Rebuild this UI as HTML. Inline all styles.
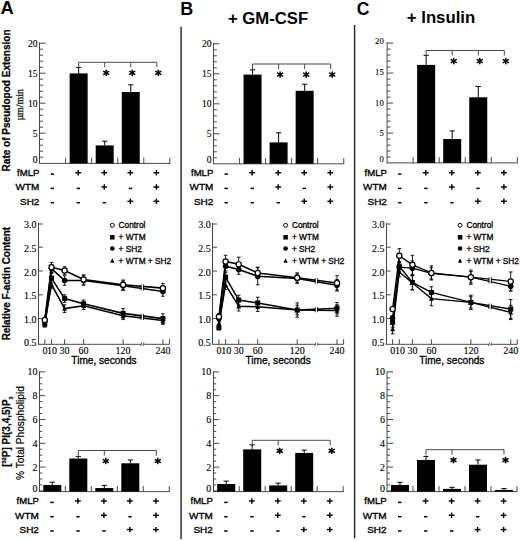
<!DOCTYPE html>
<html><head><meta charset="utf-8"><style>html,body{margin:0;padding:0;background:#fff;width:520px;height:541px;overflow:hidden}svg{display:block}</style></head><body>
<svg width="520" height="541" viewBox="0 0 520 541">
<rect width="520" height="541" fill="#fff"/>
<text x="0.60" y="14.30" font-family="'Liberation Sans', sans-serif" font-size="18.4" font-weight="bold" text-anchor="start" >A</text>
<text x="180.20" y="14.50" font-family="'Liberation Sans', sans-serif" font-size="18.0" font-weight="bold" text-anchor="start" >B</text>
<text x="356.80" y="14.80" font-family="'Liberation Sans', sans-serif" font-size="17.5" font-weight="bold" text-anchor="start" >C</text>
<text x="227.90" y="23.90" font-family="'Liberation Sans', sans-serif" font-size="16" font-weight="bold" text-anchor="start" textLength="80.3" lengthAdjust="spacingAndGlyphs">+ GM-CSF</text>
<text x="406.80" y="23.40" font-family="'Liberation Sans', sans-serif" font-size="16" font-weight="bold" text-anchor="start" textLength="68.4" lengthAdjust="spacingAndGlyphs">+ Insulin</text>
<line x1="181.10" y1="26.80" x2="181.10" y2="539.20" stroke="#4a4a4a" stroke-width="1.7" />
<line x1="354.60" y1="25.10" x2="354.60" y2="538.20" stroke="#222" stroke-width="1.4" />
<text transform="translate(10.1,171.4) rotate(-90)" font-family="'Liberation Sans', sans-serif" font-size="10.7" font-weight="bold" stroke="#000" stroke-width="0.25" textLength="142" lengthAdjust="spacingAndGlyphs">Rate of Pseudopod Extension</text>
<text transform="translate(22.9,120.6) rotate(-90)" font-family="'Liberation Serif', serif" font-size="10.4" stroke="#000" stroke-width="0.25" textLength="31.6" lengthAdjust="spacingAndGlyphs">µm/min</text>
<text transform="translate(9.7,340.3) rotate(-90)" font-family="'Liberation Sans', sans-serif" font-size="10.1" font-weight="bold" stroke="#000" stroke-width="0.25" textLength="113.4" lengthAdjust="spacingAndGlyphs">Relative F-actin Content</text>
<text transform="translate(9.7,466.8) rotate(-90)" font-family="'Liberation Sans', sans-serif" font-size="10" font-weight="bold" stroke="#000" stroke-width="0.2">[<tspan font-size="5.6" dy="-3.8">32</tspan><tspan dy="3.8">P] PI(3,4,5)P</tspan><tspan font-size="5.4" dy="3.0">3</tspan></text>
<text transform="translate(23.6,480.0) rotate(-90)" font-family="'Liberation Sans', sans-serif" font-size="10" stroke="#000" stroke-width="0.2" textLength="93.8" lengthAdjust="spacingAndGlyphs">% Total Phospholipid</text>
<line x1="39.50" y1="42.30" x2="39.50" y2="163.30" stroke="#484848" stroke-width="1.0" />
<line x1="39.60" y1="157.20" x2="43.00" y2="157.20" stroke="#484848" stroke-width="1.0" />
<line x1="39.60" y1="151.20" x2="43.00" y2="151.20" stroke="#484848" stroke-width="1.0" />
<line x1="39.60" y1="145.20" x2="43.00" y2="145.20" stroke="#484848" stroke-width="1.0" />
<line x1="39.60" y1="139.20" x2="43.00" y2="139.20" stroke="#484848" stroke-width="1.0" />
<line x1="39.60" y1="133.20" x2="45.60" y2="133.20" stroke="#484848" stroke-width="1.0" />
<line x1="39.60" y1="127.20" x2="43.00" y2="127.20" stroke="#484848" stroke-width="1.0" />
<line x1="39.60" y1="121.20" x2="43.00" y2="121.20" stroke="#484848" stroke-width="1.0" />
<line x1="39.60" y1="115.20" x2="43.00" y2="115.20" stroke="#484848" stroke-width="1.0" />
<line x1="39.60" y1="109.20" x2="43.00" y2="109.20" stroke="#484848" stroke-width="1.0" />
<line x1="39.60" y1="103.20" x2="45.60" y2="103.20" stroke="#484848" stroke-width="1.0" />
<line x1="39.60" y1="97.20" x2="43.00" y2="97.20" stroke="#484848" stroke-width="1.0" />
<line x1="39.60" y1="91.20" x2="43.00" y2="91.20" stroke="#484848" stroke-width="1.0" />
<line x1="39.60" y1="85.20" x2="43.00" y2="85.20" stroke="#484848" stroke-width="1.0" />
<line x1="39.60" y1="79.20" x2="43.00" y2="79.20" stroke="#484848" stroke-width="1.0" />
<line x1="39.60" y1="73.20" x2="45.60" y2="73.20" stroke="#484848" stroke-width="1.0" />
<line x1="39.60" y1="67.20" x2="43.00" y2="67.20" stroke="#484848" stroke-width="1.0" />
<line x1="39.60" y1="61.20" x2="43.00" y2="61.20" stroke="#484848" stroke-width="1.0" />
<line x1="39.60" y1="55.20" x2="43.00" y2="55.20" stroke="#484848" stroke-width="1.0" />
<line x1="39.60" y1="49.20" x2="43.00" y2="49.20" stroke="#484848" stroke-width="1.0" />
<line x1="39.60" y1="43.20" x2="45.60" y2="43.20" stroke="#484848" stroke-width="1.0" />
<text x="37.50" y="163.30" font-family="'Liberation Serif', serif" font-size="9.6" font-weight="normal" text-anchor="end" stroke="#000" stroke-width="0.12" >0</text>
<text x="37.50" y="136.90" font-family="'Liberation Serif', serif" font-size="9.6" font-weight="normal" text-anchor="end" stroke="#000" stroke-width="0.12" >5</text>
<text x="37.50" y="106.90" font-family="'Liberation Serif', serif" font-size="9.6" font-weight="normal" text-anchor="end" stroke="#000" stroke-width="0.12" >10</text>
<text x="37.50" y="76.90" font-family="'Liberation Serif', serif" font-size="9.6" font-weight="normal" text-anchor="end" stroke="#000" stroke-width="0.12" >15</text>
<text x="37.50" y="46.90" font-family="'Liberation Serif', serif" font-size="9.6" font-weight="normal" text-anchor="end" stroke="#000" stroke-width="0.12" >20</text>
<line x1="39.10" y1="163.40" x2="170.35" y2="163.40" stroke="#484848" stroke-width="1.0" />
<line x1="65.65" y1="163.40" x2="65.65" y2="157.60" stroke="#484848" stroke-width="1.0" />
<line x1="91.70" y1="163.40" x2="91.70" y2="157.60" stroke="#484848" stroke-width="1.0" />
<line x1="117.75" y1="163.40" x2="117.75" y2="157.60" stroke="#484848" stroke-width="1.0" />
<line x1="143.80" y1="163.40" x2="143.80" y2="157.60" stroke="#484848" stroke-width="1.0" />
<line x1="169.85" y1="163.40" x2="169.85" y2="157.60" stroke="#484848" stroke-width="1.0" />
<line x1="78.65" y1="73.40" x2="78.65" y2="67.40" stroke="#000" stroke-width="1.0" />
<line x1="76.05" y1="67.40" x2="81.25" y2="67.40" stroke="#000" stroke-width="1.0" />
<rect x="69.65" y="73.40" width="18.00" height="90.00" fill="#000"/>
<line x1="104.70" y1="145.40" x2="104.70" y2="141.20" stroke="#000" stroke-width="1.0" />
<line x1="102.10" y1="141.20" x2="107.30" y2="141.20" stroke="#000" stroke-width="1.0" />
<rect x="95.70" y="145.40" width="18.00" height="18.00" fill="#000"/>
<line x1="130.75" y1="92.00" x2="130.75" y2="84.80" stroke="#000" stroke-width="1.0" />
<line x1="128.15" y1="84.80" x2="133.35" y2="84.80" stroke="#000" stroke-width="1.0" />
<rect x="121.75" y="92.00" width="18.00" height="71.40" fill="#000"/>
<line x1="78.65" y1="62.30" x2="156.80" y2="62.30" stroke="#484848" stroke-width="1.0" />
<line x1="78.65" y1="62.30" x2="78.65" y2="67.30" stroke="#484848" stroke-width="1.0" />
<line x1="104.70" y1="62.30" x2="104.70" y2="67.30" stroke="#484848" stroke-width="1.0" />
<line x1="130.75" y1="62.30" x2="130.75" y2="67.30" stroke="#484848" stroke-width="1.0" />
<line x1="156.80" y1="62.30" x2="156.80" y2="67.30" stroke="#484848" stroke-width="1.0" />
<line x1="106.20" y1="70.29" x2="106.20" y2="75.51" stroke="#000" stroke-width="1.55" stroke-linecap="round"/>
<line x1="103.69" y1="71.45" x2="108.71" y2="74.35" stroke="#000" stroke-width="1.55" stroke-linecap="round"/>
<line x1="108.71" y1="71.45" x2="103.69" y2="74.35" stroke="#000" stroke-width="1.55" stroke-linecap="round"/>
<line x1="132.25" y1="70.29" x2="132.25" y2="75.51" stroke="#000" stroke-width="1.55" stroke-linecap="round"/>
<line x1="129.74" y1="71.45" x2="134.76" y2="74.35" stroke="#000" stroke-width="1.55" stroke-linecap="round"/>
<line x1="134.76" y1="71.45" x2="129.74" y2="74.35" stroke="#000" stroke-width="1.55" stroke-linecap="round"/>
<line x1="158.30" y1="70.29" x2="158.30" y2="75.51" stroke="#000" stroke-width="1.55" stroke-linecap="round"/>
<line x1="155.79" y1="71.45" x2="160.81" y2="74.35" stroke="#000" stroke-width="1.55" stroke-linecap="round"/>
<line x1="160.81" y1="71.45" x2="155.79" y2="74.35" stroke="#000" stroke-width="1.55" stroke-linecap="round"/>
<text x="39.40" y="176.00" font-family="'Liberation Sans', sans-serif" font-size="9.9" font-weight="normal" text-anchor="end" stroke="#000" stroke-width="0.35" textLength="22.3" lengthAdjust="spacingAndGlyphs">fMLP</text>
<line x1="50.60" y1="174.10" x2="54.00" y2="174.10" stroke="#000" stroke-width="1.5" />
<line x1="75.35" y1="172.70" x2="81.15" y2="172.70" stroke="#000" stroke-width="1.45" />
<line x1="78.25" y1="170.00" x2="78.25" y2="175.40" stroke="#000" stroke-width="1.45" />
<line x1="101.40" y1="172.70" x2="107.20" y2="172.70" stroke="#000" stroke-width="1.45" />
<line x1="104.30" y1="170.00" x2="104.30" y2="175.40" stroke="#000" stroke-width="1.45" />
<line x1="127.45" y1="172.70" x2="133.25" y2="172.70" stroke="#000" stroke-width="1.45" />
<line x1="130.35" y1="170.00" x2="130.35" y2="175.40" stroke="#000" stroke-width="1.45" />
<line x1="153.50" y1="172.70" x2="159.30" y2="172.70" stroke="#000" stroke-width="1.45" />
<line x1="156.40" y1="170.00" x2="156.40" y2="175.40" stroke="#000" stroke-width="1.45" />
<text x="39.40" y="190.30" font-family="'Liberation Sans', sans-serif" font-size="9.9" font-weight="normal" text-anchor="end" stroke="#000" stroke-width="0.35" textLength="23.8" lengthAdjust="spacingAndGlyphs">WTM</text>
<line x1="50.60" y1="188.40" x2="54.00" y2="188.40" stroke="#000" stroke-width="1.5" />
<line x1="76.65" y1="188.40" x2="80.05" y2="188.40" stroke="#000" stroke-width="1.5" />
<line x1="101.40" y1="187.00" x2="107.20" y2="187.00" stroke="#000" stroke-width="1.45" />
<line x1="104.30" y1="184.30" x2="104.30" y2="189.70" stroke="#000" stroke-width="1.45" />
<line x1="128.75" y1="188.40" x2="132.15" y2="188.40" stroke="#000" stroke-width="1.5" />
<line x1="153.50" y1="187.00" x2="159.30" y2="187.00" stroke="#000" stroke-width="1.45" />
<line x1="156.40" y1="184.30" x2="156.40" y2="189.70" stroke="#000" stroke-width="1.45" />
<text x="39.40" y="204.60" font-family="'Liberation Sans', sans-serif" font-size="9.9" font-weight="normal" text-anchor="end" stroke="#000" stroke-width="0.35" textLength="19.4" lengthAdjust="spacingAndGlyphs">SH2</text>
<line x1="50.60" y1="202.70" x2="54.00" y2="202.70" stroke="#000" stroke-width="1.5" />
<line x1="76.65" y1="202.70" x2="80.05" y2="202.70" stroke="#000" stroke-width="1.5" />
<line x1="102.70" y1="202.70" x2="106.10" y2="202.70" stroke="#000" stroke-width="1.5" />
<line x1="127.45" y1="201.30" x2="133.25" y2="201.30" stroke="#000" stroke-width="1.45" />
<line x1="130.35" y1="198.60" x2="130.35" y2="204.00" stroke="#000" stroke-width="1.45" />
<line x1="153.50" y1="201.30" x2="159.30" y2="201.30" stroke="#000" stroke-width="1.45" />
<line x1="156.40" y1="198.60" x2="156.40" y2="204.00" stroke="#000" stroke-width="1.45" />
<line x1="213.50" y1="42.90" x2="213.50" y2="163.90" stroke="#484848" stroke-width="1.0" />
<line x1="213.50" y1="157.80" x2="216.90" y2="157.80" stroke="#484848" stroke-width="1.0" />
<line x1="213.50" y1="151.80" x2="216.90" y2="151.80" stroke="#484848" stroke-width="1.0" />
<line x1="213.50" y1="145.80" x2="216.90" y2="145.80" stroke="#484848" stroke-width="1.0" />
<line x1="213.50" y1="139.80" x2="216.90" y2="139.80" stroke="#484848" stroke-width="1.0" />
<line x1="213.50" y1="133.80" x2="219.50" y2="133.80" stroke="#484848" stroke-width="1.0" />
<line x1="213.50" y1="127.80" x2="216.90" y2="127.80" stroke="#484848" stroke-width="1.0" />
<line x1="213.50" y1="121.80" x2="216.90" y2="121.80" stroke="#484848" stroke-width="1.0" />
<line x1="213.50" y1="115.80" x2="216.90" y2="115.80" stroke="#484848" stroke-width="1.0" />
<line x1="213.50" y1="109.80" x2="216.90" y2="109.80" stroke="#484848" stroke-width="1.0" />
<line x1="213.50" y1="103.80" x2="219.50" y2="103.80" stroke="#484848" stroke-width="1.0" />
<line x1="213.50" y1="97.80" x2="216.90" y2="97.80" stroke="#484848" stroke-width="1.0" />
<line x1="213.50" y1="91.80" x2="216.90" y2="91.80" stroke="#484848" stroke-width="1.0" />
<line x1="213.50" y1="85.80" x2="216.90" y2="85.80" stroke="#484848" stroke-width="1.0" />
<line x1="213.50" y1="79.80" x2="216.90" y2="79.80" stroke="#484848" stroke-width="1.0" />
<line x1="213.50" y1="73.80" x2="219.50" y2="73.80" stroke="#484848" stroke-width="1.0" />
<line x1="213.50" y1="67.80" x2="216.90" y2="67.80" stroke="#484848" stroke-width="1.0" />
<line x1="213.50" y1="61.80" x2="216.90" y2="61.80" stroke="#484848" stroke-width="1.0" />
<line x1="213.50" y1="55.80" x2="216.90" y2="55.80" stroke="#484848" stroke-width="1.0" />
<line x1="213.50" y1="49.80" x2="216.90" y2="49.80" stroke="#484848" stroke-width="1.0" />
<line x1="213.50" y1="43.80" x2="219.50" y2="43.80" stroke="#484848" stroke-width="1.0" />
<text x="211.60" y="162.80" font-family="'Liberation Serif', serif" font-size="9.6" font-weight="normal" text-anchor="end" stroke="#000" stroke-width="0.12" >0</text>
<text x="211.60" y="136.90" font-family="'Liberation Serif', serif" font-size="9.6" font-weight="normal" text-anchor="end" stroke="#000" stroke-width="0.12" >5</text>
<text x="211.60" y="107.10" font-family="'Liberation Serif', serif" font-size="9.6" font-weight="normal" text-anchor="end" stroke="#000" stroke-width="0.12" >10</text>
<text x="211.60" y="77.10" font-family="'Liberation Serif', serif" font-size="9.6" font-weight="normal" text-anchor="end" stroke="#000" stroke-width="0.12" >15</text>
<text x="211.60" y="47.10" font-family="'Liberation Serif', serif" font-size="9.6" font-weight="normal" text-anchor="end" stroke="#000" stroke-width="0.12" >20</text>
<line x1="213.00" y1="163.80" x2="344.25" y2="163.80" stroke="#484848" stroke-width="1.0" />
<line x1="239.55" y1="163.80" x2="239.55" y2="158.00" stroke="#484848" stroke-width="1.0" />
<line x1="265.60" y1="163.80" x2="265.60" y2="158.00" stroke="#484848" stroke-width="1.0" />
<line x1="291.65" y1="163.80" x2="291.65" y2="158.00" stroke="#484848" stroke-width="1.0" />
<line x1="317.70" y1="163.80" x2="317.70" y2="158.00" stroke="#484848" stroke-width="1.0" />
<line x1="343.75" y1="163.80" x2="343.75" y2="158.00" stroke="#484848" stroke-width="1.0" />
<line x1="252.55" y1="74.60" x2="252.55" y2="69.80" stroke="#000" stroke-width="1.0" />
<line x1="249.95" y1="69.80" x2="255.15" y2="69.80" stroke="#000" stroke-width="1.0" />
<rect x="243.55" y="74.60" width="18.00" height="89.20" fill="#000"/>
<line x1="278.60" y1="142.40" x2="278.60" y2="132.80" stroke="#000" stroke-width="1.0" />
<line x1="276.00" y1="132.80" x2="281.20" y2="132.80" stroke="#000" stroke-width="1.0" />
<rect x="269.60" y="142.40" width="18.00" height="21.40" fill="#000"/>
<line x1="304.65" y1="90.80" x2="304.65" y2="84.20" stroke="#000" stroke-width="1.0" />
<line x1="302.05" y1="84.20" x2="307.25" y2="84.20" stroke="#000" stroke-width="1.0" />
<rect x="295.65" y="90.80" width="18.00" height="73.00" fill="#000"/>
<line x1="252.55" y1="64.00" x2="330.70" y2="64.00" stroke="#484848" stroke-width="1.0" />
<line x1="252.55" y1="64.00" x2="252.55" y2="69.00" stroke="#484848" stroke-width="1.0" />
<line x1="278.60" y1="64.00" x2="278.60" y2="69.00" stroke="#484848" stroke-width="1.0" />
<line x1="304.65" y1="64.00" x2="304.65" y2="69.00" stroke="#484848" stroke-width="1.0" />
<line x1="330.70" y1="64.00" x2="330.70" y2="69.00" stroke="#484848" stroke-width="1.0" />
<line x1="280.10" y1="71.99" x2="280.10" y2="77.21" stroke="#000" stroke-width="1.55" stroke-linecap="round"/>
<line x1="277.59" y1="73.15" x2="282.61" y2="76.05" stroke="#000" stroke-width="1.55" stroke-linecap="round"/>
<line x1="282.61" y1="73.15" x2="277.59" y2="76.05" stroke="#000" stroke-width="1.55" stroke-linecap="round"/>
<line x1="306.15" y1="71.99" x2="306.15" y2="77.21" stroke="#000" stroke-width="1.55" stroke-linecap="round"/>
<line x1="303.64" y1="73.15" x2="308.66" y2="76.05" stroke="#000" stroke-width="1.55" stroke-linecap="round"/>
<line x1="308.66" y1="73.15" x2="303.64" y2="76.05" stroke="#000" stroke-width="1.55" stroke-linecap="round"/>
<line x1="332.20" y1="71.99" x2="332.20" y2="77.21" stroke="#000" stroke-width="1.55" stroke-linecap="round"/>
<line x1="329.69" y1="73.15" x2="334.71" y2="76.05" stroke="#000" stroke-width="1.55" stroke-linecap="round"/>
<line x1="334.71" y1="73.15" x2="329.69" y2="76.05" stroke="#000" stroke-width="1.55" stroke-linecap="round"/>
<text x="213.30" y="176.00" font-family="'Liberation Sans', sans-serif" font-size="9.9" font-weight="normal" text-anchor="end" stroke="#000" stroke-width="0.35" textLength="22.3" lengthAdjust="spacingAndGlyphs">fMLP</text>
<line x1="224.50" y1="174.10" x2="227.90" y2="174.10" stroke="#000" stroke-width="1.5" />
<line x1="249.25" y1="172.70" x2="255.05" y2="172.70" stroke="#000" stroke-width="1.45" />
<line x1="252.15" y1="170.00" x2="252.15" y2="175.40" stroke="#000" stroke-width="1.45" />
<line x1="275.30" y1="172.70" x2="281.10" y2="172.70" stroke="#000" stroke-width="1.45" />
<line x1="278.20" y1="170.00" x2="278.20" y2="175.40" stroke="#000" stroke-width="1.45" />
<line x1="301.35" y1="172.70" x2="307.15" y2="172.70" stroke="#000" stroke-width="1.45" />
<line x1="304.25" y1="170.00" x2="304.25" y2="175.40" stroke="#000" stroke-width="1.45" />
<line x1="327.40" y1="172.70" x2="333.20" y2="172.70" stroke="#000" stroke-width="1.45" />
<line x1="330.30" y1="170.00" x2="330.30" y2="175.40" stroke="#000" stroke-width="1.45" />
<text x="213.30" y="190.30" font-family="'Liberation Sans', sans-serif" font-size="9.9" font-weight="normal" text-anchor="end" stroke="#000" stroke-width="0.35" textLength="23.8" lengthAdjust="spacingAndGlyphs">WTM</text>
<line x1="224.50" y1="188.40" x2="227.90" y2="188.40" stroke="#000" stroke-width="1.5" />
<line x1="250.55" y1="188.40" x2="253.95" y2="188.40" stroke="#000" stroke-width="1.5" />
<line x1="275.30" y1="187.00" x2="281.10" y2="187.00" stroke="#000" stroke-width="1.45" />
<line x1="278.20" y1="184.30" x2="278.20" y2="189.70" stroke="#000" stroke-width="1.45" />
<line x1="302.65" y1="188.40" x2="306.05" y2="188.40" stroke="#000" stroke-width="1.5" />
<line x1="327.40" y1="187.00" x2="333.20" y2="187.00" stroke="#000" stroke-width="1.45" />
<line x1="330.30" y1="184.30" x2="330.30" y2="189.70" stroke="#000" stroke-width="1.45" />
<text x="213.30" y="204.60" font-family="'Liberation Sans', sans-serif" font-size="9.9" font-weight="normal" text-anchor="end" stroke="#000" stroke-width="0.35" textLength="19.4" lengthAdjust="spacingAndGlyphs">SH2</text>
<line x1="224.50" y1="202.70" x2="227.90" y2="202.70" stroke="#000" stroke-width="1.5" />
<line x1="250.55" y1="202.70" x2="253.95" y2="202.70" stroke="#000" stroke-width="1.5" />
<line x1="276.60" y1="202.70" x2="280.00" y2="202.70" stroke="#000" stroke-width="1.5" />
<line x1="301.35" y1="201.30" x2="307.15" y2="201.30" stroke="#000" stroke-width="1.45" />
<line x1="304.25" y1="198.60" x2="304.25" y2="204.00" stroke="#000" stroke-width="1.45" />
<line x1="327.40" y1="201.30" x2="333.20" y2="201.30" stroke="#000" stroke-width="1.45" />
<line x1="330.30" y1="198.60" x2="330.30" y2="204.00" stroke="#000" stroke-width="1.45" />
<line x1="387.10" y1="42.20" x2="387.10" y2="163.20" stroke="#484848" stroke-width="1.0" />
<line x1="387.10" y1="157.10" x2="390.50" y2="157.10" stroke="#484848" stroke-width="1.0" />
<line x1="387.10" y1="151.10" x2="390.50" y2="151.10" stroke="#484848" stroke-width="1.0" />
<line x1="387.10" y1="145.10" x2="390.50" y2="145.10" stroke="#484848" stroke-width="1.0" />
<line x1="387.10" y1="139.10" x2="390.50" y2="139.10" stroke="#484848" stroke-width="1.0" />
<line x1="387.10" y1="133.10" x2="393.10" y2="133.10" stroke="#484848" stroke-width="1.0" />
<line x1="387.10" y1="127.10" x2="390.50" y2="127.10" stroke="#484848" stroke-width="1.0" />
<line x1="387.10" y1="121.10" x2="390.50" y2="121.10" stroke="#484848" stroke-width="1.0" />
<line x1="387.10" y1="115.10" x2="390.50" y2="115.10" stroke="#484848" stroke-width="1.0" />
<line x1="387.10" y1="109.10" x2="390.50" y2="109.10" stroke="#484848" stroke-width="1.0" />
<line x1="387.10" y1="103.10" x2="393.10" y2="103.10" stroke="#484848" stroke-width="1.0" />
<line x1="387.10" y1="97.10" x2="390.50" y2="97.10" stroke="#484848" stroke-width="1.0" />
<line x1="387.10" y1="91.10" x2="390.50" y2="91.10" stroke="#484848" stroke-width="1.0" />
<line x1="387.10" y1="85.10" x2="390.50" y2="85.10" stroke="#484848" stroke-width="1.0" />
<line x1="387.10" y1="79.10" x2="390.50" y2="79.10" stroke="#484848" stroke-width="1.0" />
<line x1="387.10" y1="73.10" x2="393.10" y2="73.10" stroke="#484848" stroke-width="1.0" />
<line x1="387.10" y1="67.10" x2="390.50" y2="67.10" stroke="#484848" stroke-width="1.0" />
<line x1="387.10" y1="61.10" x2="390.50" y2="61.10" stroke="#484848" stroke-width="1.0" />
<line x1="387.10" y1="55.10" x2="390.50" y2="55.10" stroke="#484848" stroke-width="1.0" />
<line x1="387.10" y1="49.10" x2="390.50" y2="49.10" stroke="#484848" stroke-width="1.0" />
<line x1="387.10" y1="43.10" x2="393.10" y2="43.10" stroke="#484848" stroke-width="1.0" />
<text x="383.80" y="162.40" font-family="'Liberation Serif', serif" font-size="8.7" font-weight="normal" text-anchor="end" stroke="#000" stroke-width="0.12" >0</text>
<text x="383.80" y="135.60" font-family="'Liberation Serif', serif" font-size="8.7" font-weight="normal" text-anchor="end" stroke="#000" stroke-width="0.12" >5</text>
<text x="383.80" y="105.60" font-family="'Liberation Serif', serif" font-size="8.7" font-weight="normal" text-anchor="end" stroke="#000" stroke-width="0.12" >10</text>
<text x="383.80" y="75.10" font-family="'Liberation Serif', serif" font-size="8.7" font-weight="normal" text-anchor="end" stroke="#000" stroke-width="0.12" >15</text>
<text x="383.80" y="43.90" font-family="'Liberation Serif', serif" font-size="8.7" font-weight="normal" text-anchor="end" stroke="#000" stroke-width="0.12" >20</text>
<line x1="386.60" y1="162.90" x2="517.85" y2="162.90" stroke="#484848" stroke-width="1.0" />
<line x1="413.15" y1="162.90" x2="413.15" y2="157.10" stroke="#484848" stroke-width="1.0" />
<line x1="439.20" y1="162.90" x2="439.20" y2="157.10" stroke="#484848" stroke-width="1.0" />
<line x1="465.25" y1="162.90" x2="465.25" y2="157.10" stroke="#484848" stroke-width="1.0" />
<line x1="491.30" y1="162.90" x2="491.30" y2="157.10" stroke="#484848" stroke-width="1.0" />
<line x1="517.35" y1="162.90" x2="517.35" y2="157.10" stroke="#484848" stroke-width="1.0" />
<line x1="426.15" y1="64.90" x2="426.15" y2="55.30" stroke="#000" stroke-width="1.0" />
<line x1="423.55" y1="55.30" x2="428.75" y2="55.30" stroke="#000" stroke-width="1.0" />
<rect x="417.15" y="64.90" width="18.00" height="98.00" fill="#000"/>
<line x1="452.20" y1="139.00" x2="452.20" y2="130.90" stroke="#000" stroke-width="1.0" />
<line x1="449.60" y1="130.90" x2="454.80" y2="130.90" stroke="#000" stroke-width="1.0" />
<rect x="443.20" y="139.00" width="18.00" height="23.90" fill="#000"/>
<line x1="478.25" y1="97.30" x2="478.25" y2="86.50" stroke="#000" stroke-width="1.0" />
<line x1="475.65" y1="86.50" x2="480.85" y2="86.50" stroke="#000" stroke-width="1.0" />
<rect x="469.25" y="97.30" width="18.00" height="65.60" fill="#000"/>
<line x1="426.15" y1="50.50" x2="504.30" y2="50.50" stroke="#484848" stroke-width="1.0" />
<line x1="426.15" y1="50.50" x2="426.15" y2="55.50" stroke="#484848" stroke-width="1.0" />
<line x1="452.20" y1="50.50" x2="452.20" y2="55.50" stroke="#484848" stroke-width="1.0" />
<line x1="478.25" y1="50.50" x2="478.25" y2="55.50" stroke="#484848" stroke-width="1.0" />
<line x1="504.30" y1="50.50" x2="504.30" y2="55.50" stroke="#484848" stroke-width="1.0" />
<line x1="453.70" y1="58.49" x2="453.70" y2="63.71" stroke="#000" stroke-width="1.55" stroke-linecap="round"/>
<line x1="451.19" y1="59.65" x2="456.21" y2="62.55" stroke="#000" stroke-width="1.55" stroke-linecap="round"/>
<line x1="456.21" y1="59.65" x2="451.19" y2="62.55" stroke="#000" stroke-width="1.55" stroke-linecap="round"/>
<line x1="479.75" y1="58.49" x2="479.75" y2="63.71" stroke="#000" stroke-width="1.55" stroke-linecap="round"/>
<line x1="477.24" y1="59.65" x2="482.26" y2="62.55" stroke="#000" stroke-width="1.55" stroke-linecap="round"/>
<line x1="482.26" y1="59.65" x2="477.24" y2="62.55" stroke="#000" stroke-width="1.55" stroke-linecap="round"/>
<line x1="505.80" y1="58.49" x2="505.80" y2="63.71" stroke="#000" stroke-width="1.55" stroke-linecap="round"/>
<line x1="503.29" y1="59.65" x2="508.31" y2="62.55" stroke="#000" stroke-width="1.55" stroke-linecap="round"/>
<line x1="508.31" y1="59.65" x2="503.29" y2="62.55" stroke="#000" stroke-width="1.55" stroke-linecap="round"/>
<text x="386.90" y="176.00" font-family="'Liberation Sans', sans-serif" font-size="9.9" font-weight="normal" text-anchor="end" stroke="#000" stroke-width="0.35" textLength="22.3" lengthAdjust="spacingAndGlyphs">fMLP</text>
<line x1="398.10" y1="174.10" x2="401.50" y2="174.10" stroke="#000" stroke-width="1.5" />
<line x1="422.85" y1="172.70" x2="428.65" y2="172.70" stroke="#000" stroke-width="1.45" />
<line x1="425.75" y1="170.00" x2="425.75" y2="175.40" stroke="#000" stroke-width="1.45" />
<line x1="448.90" y1="172.70" x2="454.70" y2="172.70" stroke="#000" stroke-width="1.45" />
<line x1="451.80" y1="170.00" x2="451.80" y2="175.40" stroke="#000" stroke-width="1.45" />
<line x1="474.95" y1="172.70" x2="480.75" y2="172.70" stroke="#000" stroke-width="1.45" />
<line x1="477.85" y1="170.00" x2="477.85" y2="175.40" stroke="#000" stroke-width="1.45" />
<line x1="501.00" y1="172.70" x2="506.80" y2="172.70" stroke="#000" stroke-width="1.45" />
<line x1="503.90" y1="170.00" x2="503.90" y2="175.40" stroke="#000" stroke-width="1.45" />
<text x="386.90" y="190.30" font-family="'Liberation Sans', sans-serif" font-size="9.9" font-weight="normal" text-anchor="end" stroke="#000" stroke-width="0.35" textLength="23.8" lengthAdjust="spacingAndGlyphs">WTM</text>
<line x1="398.10" y1="188.40" x2="401.50" y2="188.40" stroke="#000" stroke-width="1.5" />
<line x1="424.15" y1="188.40" x2="427.55" y2="188.40" stroke="#000" stroke-width="1.5" />
<line x1="448.90" y1="187.00" x2="454.70" y2="187.00" stroke="#000" stroke-width="1.45" />
<line x1="451.80" y1="184.30" x2="451.80" y2="189.70" stroke="#000" stroke-width="1.45" />
<line x1="476.25" y1="188.40" x2="479.65" y2="188.40" stroke="#000" stroke-width="1.5" />
<line x1="501.00" y1="187.00" x2="506.80" y2="187.00" stroke="#000" stroke-width="1.45" />
<line x1="503.90" y1="184.30" x2="503.90" y2="189.70" stroke="#000" stroke-width="1.45" />
<text x="386.90" y="204.60" font-family="'Liberation Sans', sans-serif" font-size="9.9" font-weight="normal" text-anchor="end" stroke="#000" stroke-width="0.35" textLength="19.4" lengthAdjust="spacingAndGlyphs">SH2</text>
<line x1="398.10" y1="202.70" x2="401.50" y2="202.70" stroke="#000" stroke-width="1.5" />
<line x1="424.15" y1="202.70" x2="427.55" y2="202.70" stroke="#000" stroke-width="1.5" />
<line x1="450.20" y1="202.70" x2="453.60" y2="202.70" stroke="#000" stroke-width="1.5" />
<line x1="474.95" y1="201.30" x2="480.75" y2="201.30" stroke="#000" stroke-width="1.45" />
<line x1="477.85" y1="198.60" x2="477.85" y2="204.00" stroke="#000" stroke-width="1.45" />
<line x1="501.00" y1="201.30" x2="506.80" y2="201.30" stroke="#000" stroke-width="1.45" />
<line x1="503.90" y1="198.60" x2="503.90" y2="204.00" stroke="#000" stroke-width="1.45" />
<line x1="38.50" y1="222.90" x2="38.50" y2="344.80" stroke="#484848" stroke-width="1.0" />
<text x="36.60" y="346.20" font-family="'Liberation Serif', serif" font-size="10" font-weight="normal" text-anchor="end" stroke="#000" stroke-width="0.12" >0.5</text>
<line x1="38.50" y1="318.60" x2="42.90" y2="318.60" stroke="#484848" stroke-width="1.0" />
<text x="36.60" y="323.20" font-family="'Liberation Serif', serif" font-size="10" font-weight="normal" text-anchor="end" stroke="#000" stroke-width="0.12" >1.0</text>
<line x1="38.50" y1="294.80" x2="42.90" y2="294.80" stroke="#484848" stroke-width="1.0" />
<text x="36.60" y="299.40" font-family="'Liberation Serif', serif" font-size="10" font-weight="normal" text-anchor="end" stroke="#000" stroke-width="0.12" >1.5</text>
<line x1="38.50" y1="271.00" x2="42.90" y2="271.00" stroke="#484848" stroke-width="1.0" />
<text x="36.60" y="275.60" font-family="'Liberation Serif', serif" font-size="10" font-weight="normal" text-anchor="end" stroke="#000" stroke-width="0.12" >2.0</text>
<line x1="38.50" y1="247.20" x2="42.90" y2="247.20" stroke="#484848" stroke-width="1.0" />
<text x="36.60" y="251.80" font-family="'Liberation Serif', serif" font-size="10" font-weight="normal" text-anchor="end" stroke="#000" stroke-width="0.12" >2.5</text>
<line x1="38.50" y1="224.00" x2="42.90" y2="224.00" stroke="#484848" stroke-width="1.0" />
<text x="36.60" y="228.00" font-family="'Liberation Serif', serif" font-size="10" font-weight="normal" text-anchor="end" stroke="#000" stroke-width="0.12" >3.0</text>
<line x1="38.40" y1="344.30" x2="169.50" y2="344.30" stroke="#484848" stroke-width="1.0" />
<line x1="44.80" y1="344.30" x2="44.80" y2="339.30" stroke="#484848" stroke-width="1.0" />
<line x1="51.50" y1="344.30" x2="51.50" y2="339.30" stroke="#484848" stroke-width="1.0" />
<line x1="64.60" y1="344.30" x2="64.60" y2="339.30" stroke="#484848" stroke-width="1.0" />
<line x1="83.60" y1="344.30" x2="83.60" y2="339.30" stroke="#484848" stroke-width="1.0" />
<line x1="123.10" y1="344.30" x2="123.10" y2="339.30" stroke="#484848" stroke-width="1.0" />
<line x1="162.90" y1="344.30" x2="162.90" y2="339.30" stroke="#484848" stroke-width="1.0" />
<line x1="169.50" y1="344.30" x2="169.50" y2="339.30" stroke="#484848" stroke-width="1.0" />
<rect x="141.50" y="343.30" width="1.6" height="2.0" fill="#fff"/>
<path d="M140.60,346.10 L141.80,342.50 M142.80,346.10 L144.00,342.50" stroke="#484848" stroke-width="0.8" fill="none"/>
<text x="45.00" y="354.30" font-family="'Liberation Serif', serif" font-size="10" font-weight="normal" text-anchor="middle" stroke="#000" stroke-width="0.12" >0</text>
<text x="52.10" y="354.30" font-family="'Liberation Serif', serif" font-size="10" font-weight="normal" text-anchor="middle" stroke="#000" stroke-width="0.12" >10</text>
<text x="64.60" y="354.30" font-family="'Liberation Serif', serif" font-size="10" font-weight="normal" text-anchor="middle" stroke="#000" stroke-width="0.12" >30</text>
<text x="83.60" y="354.30" font-family="'Liberation Serif', serif" font-size="10" font-weight="normal" text-anchor="middle" stroke="#000" stroke-width="0.12" >60</text>
<text x="123.10" y="354.30" font-family="'Liberation Serif', serif" font-size="10" font-weight="normal" text-anchor="middle" stroke="#000" stroke-width="0.12" >120</text>
<text x="162.90" y="354.30" font-family="'Liberation Serif', serif" font-size="10" font-weight="normal" text-anchor="middle" stroke="#000" stroke-width="0.12" >240</text>
<text x="104.00" y="363.80" font-family="'Liberation Sans', sans-serif" font-size="10.1" font-weight="normal" text-anchor="middle" stroke="#000" stroke-width="0.3" >Time, seconds</text>
<line x1="44.80" y1="322.41" x2="44.80" y2="317.65" stroke="#000" stroke-width="0.9" />
<line x1="43.00" y1="317.65" x2="46.60" y2="317.65" stroke="#000" stroke-width="0.9" />
<line x1="43.00" y1="322.41" x2="46.60" y2="322.41" stroke="#000" stroke-width="0.9" />
<line x1="51.50" y1="271.95" x2="51.50" y2="262.43" stroke="#000" stroke-width="0.9" />
<line x1="49.70" y1="262.43" x2="53.30" y2="262.43" stroke="#000" stroke-width="0.9" />
<line x1="49.70" y1="271.95" x2="53.30" y2="271.95" stroke="#000" stroke-width="0.9" />
<line x1="64.60" y1="274.33" x2="64.60" y2="266.72" stroke="#000" stroke-width="0.9" />
<line x1="62.80" y1="266.72" x2="66.40" y2="266.72" stroke="#000" stroke-width="0.9" />
<line x1="62.80" y1="274.33" x2="66.40" y2="274.33" stroke="#000" stroke-width="0.9" />
<line x1="83.60" y1="284.33" x2="83.60" y2="274.81" stroke="#000" stroke-width="0.9" />
<line x1="81.80" y1="274.81" x2="85.40" y2="274.81" stroke="#000" stroke-width="0.9" />
<line x1="81.80" y1="284.33" x2="85.40" y2="284.33" stroke="#000" stroke-width="0.9" />
<line x1="123.10" y1="289.56" x2="123.10" y2="280.04" stroke="#000" stroke-width="0.9" />
<line x1="121.30" y1="280.04" x2="124.90" y2="280.04" stroke="#000" stroke-width="0.9" />
<line x1="121.30" y1="289.56" x2="124.90" y2="289.56" stroke="#000" stroke-width="0.9" />
<line x1="162.90" y1="292.90" x2="162.90" y2="283.38" stroke="#000" stroke-width="0.9" />
<line x1="161.10" y1="283.38" x2="164.70" y2="283.38" stroke="#000" stroke-width="0.9" />
<line x1="161.10" y1="292.90" x2="164.70" y2="292.90" stroke="#000" stroke-width="0.9" />
<line x1="44.80" y1="323.36" x2="44.80" y2="318.60" stroke="#000" stroke-width="0.9" />
<line x1="43.00" y1="318.60" x2="46.60" y2="318.60" stroke="#000" stroke-width="0.9" />
<line x1="43.00" y1="323.36" x2="46.60" y2="323.36" stroke="#000" stroke-width="0.9" />
<line x1="51.50" y1="272.43" x2="51.50" y2="264.81" stroke="#000" stroke-width="0.9" />
<line x1="49.70" y1="264.81" x2="53.30" y2="264.81" stroke="#000" stroke-width="0.9" />
<line x1="49.70" y1="272.43" x2="53.30" y2="272.43" stroke="#000" stroke-width="0.9" />
<line x1="64.60" y1="285.28" x2="64.60" y2="275.76" stroke="#000" stroke-width="0.9" />
<line x1="62.80" y1="275.76" x2="66.40" y2="275.76" stroke="#000" stroke-width="0.9" />
<line x1="62.80" y1="285.28" x2="66.40" y2="285.28" stroke="#000" stroke-width="0.9" />
<line x1="83.60" y1="285.28" x2="83.60" y2="275.76" stroke="#000" stroke-width="0.9" />
<line x1="81.80" y1="275.76" x2="85.40" y2="275.76" stroke="#000" stroke-width="0.9" />
<line x1="81.80" y1="285.28" x2="85.40" y2="285.28" stroke="#000" stroke-width="0.9" />
<line x1="123.10" y1="290.52" x2="123.10" y2="281.00" stroke="#000" stroke-width="0.9" />
<line x1="121.30" y1="281.00" x2="124.90" y2="281.00" stroke="#000" stroke-width="0.9" />
<line x1="121.30" y1="290.52" x2="124.90" y2="290.52" stroke="#000" stroke-width="0.9" />
<line x1="162.90" y1="296.23" x2="162.90" y2="286.71" stroke="#000" stroke-width="0.9" />
<line x1="161.10" y1="286.71" x2="164.70" y2="286.71" stroke="#000" stroke-width="0.9" />
<line x1="161.10" y1="296.23" x2="164.70" y2="296.23" stroke="#000" stroke-width="0.9" />
<line x1="44.80" y1="327.17" x2="44.80" y2="321.46" stroke="#000" stroke-width="0.9" />
<line x1="43.00" y1="321.46" x2="46.60" y2="321.46" stroke="#000" stroke-width="0.9" />
<line x1="43.00" y1="327.17" x2="46.60" y2="327.17" stroke="#000" stroke-width="0.9" />
<line x1="51.50" y1="282.90" x2="51.50" y2="273.38" stroke="#000" stroke-width="0.9" />
<line x1="49.70" y1="273.38" x2="53.30" y2="273.38" stroke="#000" stroke-width="0.9" />
<line x1="49.70" y1="282.90" x2="53.30" y2="282.90" stroke="#000" stroke-width="0.9" />
<line x1="64.60" y1="302.42" x2="64.60" y2="294.80" stroke="#000" stroke-width="0.9" />
<line x1="62.80" y1="294.80" x2="66.40" y2="294.80" stroke="#000" stroke-width="0.9" />
<line x1="62.80" y1="302.42" x2="66.40" y2="302.42" stroke="#000" stroke-width="0.9" />
<line x1="83.60" y1="307.65" x2="83.60" y2="300.04" stroke="#000" stroke-width="0.9" />
<line x1="81.80" y1="300.04" x2="85.40" y2="300.04" stroke="#000" stroke-width="0.9" />
<line x1="81.80" y1="307.65" x2="85.40" y2="307.65" stroke="#000" stroke-width="0.9" />
<line x1="123.10" y1="318.12" x2="123.10" y2="308.60" stroke="#000" stroke-width="0.9" />
<line x1="121.30" y1="308.60" x2="124.90" y2="308.60" stroke="#000" stroke-width="0.9" />
<line x1="121.30" y1="318.12" x2="124.90" y2="318.12" stroke="#000" stroke-width="0.9" />
<line x1="162.90" y1="323.36" x2="162.90" y2="313.84" stroke="#000" stroke-width="0.9" />
<line x1="161.10" y1="313.84" x2="164.70" y2="313.84" stroke="#000" stroke-width="0.9" />
<line x1="161.10" y1="323.36" x2="164.70" y2="323.36" stroke="#000" stroke-width="0.9" />
<line x1="44.80" y1="325.74" x2="44.80" y2="320.98" stroke="#000" stroke-width="0.9" />
<line x1="43.00" y1="320.98" x2="46.60" y2="320.98" stroke="#000" stroke-width="0.9" />
<line x1="43.00" y1="325.74" x2="46.60" y2="325.74" stroke="#000" stroke-width="0.9" />
<line x1="51.50" y1="288.14" x2="51.50" y2="280.52" stroke="#000" stroke-width="0.9" />
<line x1="49.70" y1="280.52" x2="53.30" y2="280.52" stroke="#000" stroke-width="0.9" />
<line x1="49.70" y1="288.14" x2="53.30" y2="288.14" stroke="#000" stroke-width="0.9" />
<line x1="64.60" y1="312.41" x2="64.60" y2="304.80" stroke="#000" stroke-width="0.9" />
<line x1="62.80" y1="304.80" x2="66.40" y2="304.80" stroke="#000" stroke-width="0.9" />
<line x1="62.80" y1="312.41" x2="66.40" y2="312.41" stroke="#000" stroke-width="0.9" />
<line x1="83.60" y1="309.56" x2="83.60" y2="301.94" stroke="#000" stroke-width="0.9" />
<line x1="81.80" y1="301.94" x2="85.40" y2="301.94" stroke="#000" stroke-width="0.9" />
<line x1="81.80" y1="309.56" x2="85.40" y2="309.56" stroke="#000" stroke-width="0.9" />
<line x1="123.10" y1="319.55" x2="123.10" y2="311.94" stroke="#000" stroke-width="0.9" />
<line x1="121.30" y1="311.94" x2="124.90" y2="311.94" stroke="#000" stroke-width="0.9" />
<line x1="121.30" y1="319.55" x2="124.90" y2="319.55" stroke="#000" stroke-width="0.9" />
<line x1="162.90" y1="324.31" x2="162.90" y2="316.70" stroke="#000" stroke-width="0.9" />
<line x1="161.10" y1="316.70" x2="164.70" y2="316.70" stroke="#000" stroke-width="0.9" />
<line x1="161.10" y1="324.31" x2="164.70" y2="324.31" stroke="#000" stroke-width="0.9" />
<polyline points="44.80,323.36 51.50,284.33 64.60,308.60 83.60,305.75 123.10,315.74 162.90,320.50" fill="none" stroke="#000" stroke-width="1.6"/>
<polyline points="44.80,324.31 51.50,278.14 64.60,298.61 83.60,303.84 123.10,313.36 162.90,318.60" fill="none" stroke="#000" stroke-width="1.6"/>
<polyline points="44.80,320.98 51.50,268.62 64.60,280.52 83.60,280.52 123.10,285.76 162.90,291.47" fill="none" stroke="#000" stroke-width="1.6"/>
<polyline points="44.80,320.03 51.50,267.19 64.60,270.52 83.60,279.57 123.10,284.80 162.90,288.14" fill="none" stroke="#000" stroke-width="1.6"/>
<rect x="141.50" y="316.44" width="1.6" height="3.2" fill="#fff"/>
<path d="M141.10,320.04 L141.10,316.04 M143.50,320.04 L143.50,316.04" stroke="#000" stroke-width="0.8" fill="none"/>
<rect x="141.50" y="314.29" width="1.6" height="3.2" fill="#fff"/>
<path d="M141.10,317.89 L141.10,313.89 M143.50,317.89 L143.50,313.89" stroke="#000" stroke-width="0.8" fill="none"/>
<rect x="141.50" y="286.91" width="1.6" height="3.2" fill="#fff"/>
<path d="M141.10,290.51 L141.10,286.51 M143.50,290.51 L143.50,286.51" stroke="#000" stroke-width="0.8" fill="none"/>
<rect x="141.50" y="284.81" width="1.6" height="3.2" fill="#fff"/>
<path d="M141.10,288.41 L141.10,284.41 M143.50,288.41 L143.50,284.41" stroke="#000" stroke-width="0.8" fill="none"/>
<path d="M44.80,320.72 L47.20,325.52 L42.40,325.52 Z" fill="#000"/>
<path d="M51.50,281.69 L53.90,286.49 L49.10,286.49 Z" fill="#000"/>
<path d="M64.60,305.96 L67.00,310.76 L62.20,310.76 Z" fill="#000"/>
<path d="M83.60,303.11 L86.00,307.91 L81.20,307.91 Z" fill="#000"/>
<path d="M123.10,313.10 L125.50,317.90 L120.70,317.90 Z" fill="#000"/>
<path d="M162.90,317.86 L165.30,322.66 L160.50,322.66 Z" fill="#000"/>
<rect x="42.30" y="321.81" width="5.0" height="5.0" fill="#000"/>
<rect x="49.00" y="275.64" width="5.0" height="5.0" fill="#000"/>
<rect x="62.10" y="296.11" width="5.0" height="5.0" fill="#000"/>
<rect x="81.10" y="301.34" width="5.0" height="5.0" fill="#000"/>
<rect x="120.60" y="310.86" width="5.0" height="5.0" fill="#000"/>
<rect x="160.40" y="316.10" width="5.0" height="5.0" fill="#000"/>
<circle cx="44.80" cy="320.98" r="2.8" fill="#000"/>
<circle cx="51.50" cy="268.62" r="2.8" fill="#000"/>
<circle cx="64.60" cy="280.52" r="2.8" fill="#000"/>
<circle cx="83.60" cy="280.52" r="2.8" fill="#000"/>
<circle cx="123.10" cy="285.76" r="2.8" fill="#000"/>
<circle cx="162.90" cy="291.47" r="2.8" fill="#000"/>
<circle cx="44.80" cy="320.03" r="2.6" fill="#fff" stroke="#000" stroke-width="1.2"/>
<circle cx="51.50" cy="267.19" r="2.6" fill="#fff" stroke="#000" stroke-width="1.2"/>
<circle cx="64.60" cy="270.52" r="2.6" fill="#fff" stroke="#000" stroke-width="1.2"/>
<circle cx="83.60" cy="279.57" r="2.6" fill="#fff" stroke="#000" stroke-width="1.2"/>
<circle cx="123.10" cy="284.80" r="2.6" fill="#fff" stroke="#000" stroke-width="1.2"/>
<circle cx="162.90" cy="288.14" r="2.6" fill="#fff" stroke="#000" stroke-width="1.2"/>
<circle cx="112.30" cy="225.30" r="2.0" fill="#fff" stroke="#000" stroke-width="1.0"/>
<text x="118.60" y="228.30" font-family="'Liberation Sans', sans-serif" font-size="8.3" font-weight="normal" text-anchor="start" stroke="#000" stroke-width="0.3" >Control</text>
<rect x="110.05" y="235.05" width="4.5" height="4.5" fill="#000"/>
<text x="118.60" y="240.30" font-family="'Liberation Sans', sans-serif" font-size="8.3" font-weight="normal" text-anchor="start" stroke="#000" stroke-width="0.3" >+ WTM</text>
<circle cx="112.30" cy="248.50" r="2.3" fill="#000"/>
<text x="118.60" y="251.50" font-family="'Liberation Sans', sans-serif" font-size="8.3" font-weight="normal" text-anchor="start" stroke="#000" stroke-width="0.3" >+ SH2</text>
<path d="M112.30,258.33 L114.45,262.63 L110.15,262.63 Z" fill="#000"/>
<text x="118.60" y="263.70" font-family="'Liberation Sans', sans-serif" font-size="8.3" font-weight="normal" text-anchor="start" stroke="#000" stroke-width="0.3" >+ WTM + SH2</text>
<line x1="212.50" y1="222.90" x2="212.50" y2="344.80" stroke="#484848" stroke-width="1.0" />
<text x="210.70" y="346.20" font-family="'Liberation Serif', serif" font-size="10" font-weight="normal" text-anchor="end" stroke="#000" stroke-width="0.12" >0.5</text>
<line x1="212.50" y1="318.60" x2="217.00" y2="318.60" stroke="#484848" stroke-width="1.0" />
<text x="210.70" y="323.20" font-family="'Liberation Serif', serif" font-size="10" font-weight="normal" text-anchor="end" stroke="#000" stroke-width="0.12" >1.0</text>
<line x1="212.50" y1="294.80" x2="217.00" y2="294.80" stroke="#484848" stroke-width="1.0" />
<text x="210.70" y="299.40" font-family="'Liberation Serif', serif" font-size="10" font-weight="normal" text-anchor="end" stroke="#000" stroke-width="0.12" >1.5</text>
<line x1="212.50" y1="271.00" x2="217.00" y2="271.00" stroke="#484848" stroke-width="1.0" />
<text x="210.70" y="275.60" font-family="'Liberation Serif', serif" font-size="10" font-weight="normal" text-anchor="end" stroke="#000" stroke-width="0.12" >2.0</text>
<line x1="212.50" y1="247.20" x2="217.00" y2="247.20" stroke="#484848" stroke-width="1.0" />
<text x="210.70" y="251.80" font-family="'Liberation Serif', serif" font-size="10" font-weight="normal" text-anchor="end" stroke="#000" stroke-width="0.12" >2.5</text>
<line x1="212.50" y1="224.00" x2="217.00" y2="224.00" stroke="#484848" stroke-width="1.0" />
<text x="210.70" y="228.00" font-family="'Liberation Serif', serif" font-size="10" font-weight="normal" text-anchor="end" stroke="#000" stroke-width="0.12" >3.0</text>
<line x1="212.50" y1="344.30" x2="343.60" y2="344.30" stroke="#484848" stroke-width="1.0" />
<line x1="218.90" y1="344.30" x2="218.90" y2="339.30" stroke="#484848" stroke-width="1.0" />
<line x1="225.60" y1="344.30" x2="225.60" y2="339.30" stroke="#484848" stroke-width="1.0" />
<line x1="238.70" y1="344.30" x2="238.70" y2="339.30" stroke="#484848" stroke-width="1.0" />
<line x1="257.70" y1="344.30" x2="257.70" y2="339.30" stroke="#484848" stroke-width="1.0" />
<line x1="297.20" y1="344.30" x2="297.20" y2="339.30" stroke="#484848" stroke-width="1.0" />
<line x1="337.00" y1="344.30" x2="337.00" y2="339.30" stroke="#484848" stroke-width="1.0" />
<line x1="343.60" y1="344.30" x2="343.60" y2="339.30" stroke="#484848" stroke-width="1.0" />
<rect x="315.60" y="343.30" width="1.6" height="2.0" fill="#fff"/>
<path d="M314.70,346.10 L315.90,342.50 M316.90,346.10 L318.10,342.50" stroke="#484848" stroke-width="0.8" fill="none"/>
<text x="219.10" y="354.30" font-family="'Liberation Serif', serif" font-size="10" font-weight="normal" text-anchor="middle" stroke="#000" stroke-width="0.12" >0</text>
<text x="226.20" y="354.30" font-family="'Liberation Serif', serif" font-size="10" font-weight="normal" text-anchor="middle" stroke="#000" stroke-width="0.12" >10</text>
<text x="238.70" y="354.30" font-family="'Liberation Serif', serif" font-size="10" font-weight="normal" text-anchor="middle" stroke="#000" stroke-width="0.12" >30</text>
<text x="257.70" y="354.30" font-family="'Liberation Serif', serif" font-size="10" font-weight="normal" text-anchor="middle" stroke="#000" stroke-width="0.12" >60</text>
<text x="297.20" y="354.30" font-family="'Liberation Serif', serif" font-size="10" font-weight="normal" text-anchor="middle" stroke="#000" stroke-width="0.12" >120</text>
<text x="337.00" y="354.30" font-family="'Liberation Serif', serif" font-size="10" font-weight="normal" text-anchor="middle" stroke="#000" stroke-width="0.12" >240</text>
<text x="278.10" y="363.80" font-family="'Liberation Sans', sans-serif" font-size="10.1" font-weight="normal" text-anchor="middle" stroke="#000" stroke-width="0.3" >Time, seconds</text>
<line x1="218.90" y1="319.55" x2="218.90" y2="313.84" stroke="#000" stroke-width="0.9" />
<line x1="217.10" y1="313.84" x2="220.70" y2="313.84" stroke="#000" stroke-width="0.9" />
<line x1="217.10" y1="319.55" x2="220.70" y2="319.55" stroke="#000" stroke-width="0.9" />
<line x1="225.60" y1="267.67" x2="225.60" y2="255.29" stroke="#000" stroke-width="0.9" />
<line x1="223.80" y1="255.29" x2="227.40" y2="255.29" stroke="#000" stroke-width="0.9" />
<line x1="223.80" y1="267.67" x2="227.40" y2="267.67" stroke="#000" stroke-width="0.9" />
<line x1="238.70" y1="271.48" x2="238.70" y2="257.20" stroke="#000" stroke-width="0.9" />
<line x1="236.90" y1="257.20" x2="240.50" y2="257.20" stroke="#000" stroke-width="0.9" />
<line x1="236.90" y1="271.48" x2="240.50" y2="271.48" stroke="#000" stroke-width="0.9" />
<line x1="257.70" y1="278.62" x2="257.70" y2="267.19" stroke="#000" stroke-width="0.9" />
<line x1="255.90" y1="267.19" x2="259.50" y2="267.19" stroke="#000" stroke-width="0.9" />
<line x1="255.90" y1="278.62" x2="259.50" y2="278.62" stroke="#000" stroke-width="0.9" />
<line x1="297.20" y1="282.42" x2="297.20" y2="272.90" stroke="#000" stroke-width="0.9" />
<line x1="295.40" y1="272.90" x2="299.00" y2="272.90" stroke="#000" stroke-width="0.9" />
<line x1="295.40" y1="282.42" x2="299.00" y2="282.42" stroke="#000" stroke-width="0.9" />
<line x1="337.00" y1="290.04" x2="337.00" y2="275.76" stroke="#000" stroke-width="0.9" />
<line x1="335.20" y1="275.76" x2="338.80" y2="275.76" stroke="#000" stroke-width="0.9" />
<line x1="335.20" y1="290.04" x2="338.80" y2="290.04" stroke="#000" stroke-width="0.9" />
<line x1="218.90" y1="320.98" x2="218.90" y2="316.22" stroke="#000" stroke-width="0.9" />
<line x1="217.10" y1="316.22" x2="220.70" y2="316.22" stroke="#000" stroke-width="0.9" />
<line x1="217.10" y1="320.98" x2="220.70" y2="320.98" stroke="#000" stroke-width="0.9" />
<line x1="225.60" y1="271.00" x2="225.60" y2="261.48" stroke="#000" stroke-width="0.9" />
<line x1="223.80" y1="261.48" x2="227.40" y2="261.48" stroke="#000" stroke-width="0.9" />
<line x1="223.80" y1="271.00" x2="227.40" y2="271.00" stroke="#000" stroke-width="0.9" />
<line x1="238.70" y1="274.33" x2="238.70" y2="264.81" stroke="#000" stroke-width="0.9" />
<line x1="236.90" y1="264.81" x2="240.50" y2="264.81" stroke="#000" stroke-width="0.9" />
<line x1="236.90" y1="274.33" x2="240.50" y2="274.33" stroke="#000" stroke-width="0.9" />
<line x1="257.70" y1="284.80" x2="257.70" y2="267.67" stroke="#000" stroke-width="0.9" />
<line x1="255.90" y1="267.67" x2="259.50" y2="267.67" stroke="#000" stroke-width="0.9" />
<line x1="255.90" y1="284.80" x2="259.50" y2="284.80" stroke="#000" stroke-width="0.9" />
<line x1="297.20" y1="283.38" x2="297.20" y2="273.86" stroke="#000" stroke-width="0.9" />
<line x1="295.40" y1="273.86" x2="299.00" y2="273.86" stroke="#000" stroke-width="0.9" />
<line x1="295.40" y1="283.38" x2="299.00" y2="283.38" stroke="#000" stroke-width="0.9" />
<line x1="337.00" y1="290.99" x2="337.00" y2="279.57" stroke="#000" stroke-width="0.9" />
<line x1="335.20" y1="279.57" x2="338.80" y2="279.57" stroke="#000" stroke-width="0.9" />
<line x1="335.20" y1="290.99" x2="338.80" y2="290.99" stroke="#000" stroke-width="0.9" />
<line x1="218.90" y1="330.02" x2="218.90" y2="325.26" stroke="#000" stroke-width="0.9" />
<line x1="217.10" y1="325.26" x2="220.70" y2="325.26" stroke="#000" stroke-width="0.9" />
<line x1="217.10" y1="330.02" x2="220.70" y2="330.02" stroke="#000" stroke-width="0.9" />
<line x1="225.60" y1="281.95" x2="225.60" y2="272.43" stroke="#000" stroke-width="0.9" />
<line x1="223.80" y1="272.43" x2="227.40" y2="272.43" stroke="#000" stroke-width="0.9" />
<line x1="223.80" y1="281.95" x2="227.40" y2="281.95" stroke="#000" stroke-width="0.9" />
<line x1="238.70" y1="304.80" x2="238.70" y2="295.28" stroke="#000" stroke-width="0.9" />
<line x1="236.90" y1="295.28" x2="240.50" y2="295.28" stroke="#000" stroke-width="0.9" />
<line x1="236.90" y1="304.80" x2="240.50" y2="304.80" stroke="#000" stroke-width="0.9" />
<line x1="257.70" y1="308.60" x2="257.70" y2="297.18" stroke="#000" stroke-width="0.9" />
<line x1="255.90" y1="297.18" x2="259.50" y2="297.18" stroke="#000" stroke-width="0.9" />
<line x1="255.90" y1="308.60" x2="259.50" y2="308.60" stroke="#000" stroke-width="0.9" />
<line x1="297.20" y1="317.17" x2="297.20" y2="302.89" stroke="#000" stroke-width="0.9" />
<line x1="295.40" y1="302.89" x2="299.00" y2="302.89" stroke="#000" stroke-width="0.9" />
<line x1="295.40" y1="317.17" x2="299.00" y2="317.17" stroke="#000" stroke-width="0.9" />
<line x1="337.00" y1="313.84" x2="337.00" y2="302.42" stroke="#000" stroke-width="0.9" />
<line x1="335.20" y1="302.42" x2="338.80" y2="302.42" stroke="#000" stroke-width="0.9" />
<line x1="335.20" y1="313.84" x2="338.80" y2="313.84" stroke="#000" stroke-width="0.9" />
<line x1="218.90" y1="325.74" x2="218.90" y2="320.98" stroke="#000" stroke-width="0.9" />
<line x1="217.10" y1="320.98" x2="220.70" y2="320.98" stroke="#000" stroke-width="0.9" />
<line x1="217.10" y1="325.74" x2="220.70" y2="325.74" stroke="#000" stroke-width="0.9" />
<line x1="225.60" y1="289.56" x2="225.60" y2="280.04" stroke="#000" stroke-width="0.9" />
<line x1="223.80" y1="280.04" x2="227.40" y2="280.04" stroke="#000" stroke-width="0.9" />
<line x1="223.80" y1="289.56" x2="227.40" y2="289.56" stroke="#000" stroke-width="0.9" />
<line x1="238.70" y1="310.98" x2="238.70" y2="301.46" stroke="#000" stroke-width="0.9" />
<line x1="236.90" y1="301.46" x2="240.50" y2="301.46" stroke="#000" stroke-width="0.9" />
<line x1="236.90" y1="310.98" x2="240.50" y2="310.98" stroke="#000" stroke-width="0.9" />
<line x1="257.70" y1="311.46" x2="257.70" y2="301.94" stroke="#000" stroke-width="0.9" />
<line x1="255.90" y1="301.94" x2="259.50" y2="301.94" stroke="#000" stroke-width="0.9" />
<line x1="255.90" y1="311.46" x2="259.50" y2="311.46" stroke="#000" stroke-width="0.9" />
<line x1="297.20" y1="314.79" x2="297.20" y2="305.27" stroke="#000" stroke-width="0.9" />
<line x1="295.40" y1="305.27" x2="299.00" y2="305.27" stroke="#000" stroke-width="0.9" />
<line x1="295.40" y1="314.79" x2="299.00" y2="314.79" stroke="#000" stroke-width="0.9" />
<line x1="337.00" y1="316.22" x2="337.00" y2="304.80" stroke="#000" stroke-width="0.9" />
<line x1="335.20" y1="304.80" x2="338.80" y2="304.80" stroke="#000" stroke-width="0.9" />
<line x1="335.20" y1="316.22" x2="338.80" y2="316.22" stroke="#000" stroke-width="0.9" />
<polyline points="218.90,323.36 225.60,284.80 238.70,306.22 257.70,306.70 297.20,310.03 337.00,310.51" fill="none" stroke="#000" stroke-width="1.5"/>
<polyline points="218.90,327.64 225.60,277.19 238.70,300.04 257.70,302.89 297.20,310.03 337.00,308.13" fill="none" stroke="#000" stroke-width="1.5"/>
<polyline points="218.90,318.60 225.60,266.24 238.70,269.57 257.70,276.24 297.20,278.62 337.00,285.28" fill="none" stroke="#000" stroke-width="1.5"/>
<polyline points="218.90,316.70 225.60,261.48 238.70,264.34 257.70,272.90 297.20,277.66 337.00,282.90" fill="none" stroke="#000" stroke-width="1.5"/>
<rect x="315.60" y="308.66" width="1.6" height="3.2" fill="#fff"/>
<path d="M315.20,312.26 L315.20,308.26 M317.60,312.26 L317.60,308.26" stroke="#000" stroke-width="0.8" fill="none"/>
<rect x="315.60" y="307.51" width="1.6" height="3.2" fill="#fff"/>
<path d="M315.20,311.11 L315.20,307.11 M317.60,311.11 L317.60,307.11" stroke="#000" stroke-width="0.8" fill="none"/>
<rect x="315.60" y="280.23" width="1.6" height="3.2" fill="#fff"/>
<path d="M315.20,283.83 L315.20,279.83 M317.60,283.83 L317.60,279.83" stroke="#000" stroke-width="0.8" fill="none"/>
<rect x="315.60" y="278.59" width="1.6" height="3.2" fill="#fff"/>
<path d="M315.20,282.19 L315.20,278.19 M317.60,282.19 L317.60,278.19" stroke="#000" stroke-width="0.8" fill="none"/>
<path d="M218.90,320.72 L221.30,325.52 L216.50,325.52 Z" fill="#000"/>
<path d="M225.60,282.16 L228.00,286.96 L223.20,286.96 Z" fill="#000"/>
<path d="M238.70,303.58 L241.10,308.38 L236.30,308.38 Z" fill="#000"/>
<path d="M257.70,304.06 L260.10,308.86 L255.30,308.86 Z" fill="#000"/>
<path d="M297.20,307.39 L299.60,312.19 L294.80,312.19 Z" fill="#000"/>
<path d="M337.00,307.87 L339.40,312.67 L334.60,312.67 Z" fill="#000"/>
<rect x="216.40" y="325.14" width="5.0" height="5.0" fill="#000"/>
<rect x="223.10" y="274.69" width="5.0" height="5.0" fill="#000"/>
<rect x="236.20" y="297.54" width="5.0" height="5.0" fill="#000"/>
<rect x="255.20" y="300.39" width="5.0" height="5.0" fill="#000"/>
<rect x="294.70" y="307.53" width="5.0" height="5.0" fill="#000"/>
<rect x="334.50" y="305.63" width="5.0" height="5.0" fill="#000"/>
<circle cx="218.90" cy="318.60" r="2.8" fill="#000"/>
<circle cx="225.60" cy="266.24" r="2.8" fill="#000"/>
<circle cx="238.70" cy="269.57" r="2.8" fill="#000"/>
<circle cx="257.70" cy="276.24" r="2.8" fill="#000"/>
<circle cx="297.20" cy="278.62" r="2.8" fill="#000"/>
<circle cx="337.00" cy="285.28" r="2.8" fill="#000"/>
<circle cx="218.90" cy="316.70" r="2.6" fill="#fff" stroke="#000" stroke-width="1.2"/>
<circle cx="225.60" cy="261.48" r="2.6" fill="#fff" stroke="#000" stroke-width="1.2"/>
<circle cx="238.70" cy="264.34" r="2.6" fill="#fff" stroke="#000" stroke-width="1.2"/>
<circle cx="257.70" cy="272.90" r="2.6" fill="#fff" stroke="#000" stroke-width="1.2"/>
<circle cx="297.20" cy="277.66" r="2.6" fill="#fff" stroke="#000" stroke-width="1.2"/>
<circle cx="337.00" cy="282.90" r="2.6" fill="#fff" stroke="#000" stroke-width="1.2"/>
<circle cx="285.60" cy="225.30" r="2.0" fill="#fff" stroke="#000" stroke-width="1.0"/>
<text x="291.90" y="228.30" font-family="'Liberation Sans', sans-serif" font-size="8.3" font-weight="normal" text-anchor="start" stroke="#000" stroke-width="0.3" >Control</text>
<rect x="283.35" y="235.05" width="4.5" height="4.5" fill="#000"/>
<text x="291.90" y="240.30" font-family="'Liberation Sans', sans-serif" font-size="8.3" font-weight="normal" text-anchor="start" stroke="#000" stroke-width="0.3" >+ WTM</text>
<circle cx="285.60" cy="248.50" r="2.3" fill="#000"/>
<text x="291.90" y="251.50" font-family="'Liberation Sans', sans-serif" font-size="8.3" font-weight="normal" text-anchor="start" stroke="#000" stroke-width="0.3" >+ SH2</text>
<path d="M285.60,258.33 L287.75,262.63 L283.45,262.63 Z" fill="#000"/>
<text x="291.90" y="263.70" font-family="'Liberation Sans', sans-serif" font-size="8.3" font-weight="normal" text-anchor="start" stroke="#000" stroke-width="0.3" >+ WTM + SH2</text>
<line x1="386.50" y1="222.90" x2="386.50" y2="344.80" stroke="#484848" stroke-width="1.0" />
<text x="384.40" y="346.20" font-family="'Liberation Serif', serif" font-size="10" font-weight="normal" text-anchor="end" stroke="#000" stroke-width="0.12" >0.5</text>
<line x1="386.50" y1="318.60" x2="390.70" y2="318.60" stroke="#484848" stroke-width="1.0" />
<text x="384.40" y="323.20" font-family="'Liberation Serif', serif" font-size="10" font-weight="normal" text-anchor="end" stroke="#000" stroke-width="0.12" >1.0</text>
<line x1="386.50" y1="294.80" x2="390.70" y2="294.80" stroke="#484848" stroke-width="1.0" />
<text x="384.40" y="299.40" font-family="'Liberation Serif', serif" font-size="10" font-weight="normal" text-anchor="end" stroke="#000" stroke-width="0.12" >1.5</text>
<line x1="386.50" y1="271.00" x2="390.70" y2="271.00" stroke="#484848" stroke-width="1.0" />
<text x="384.40" y="275.60" font-family="'Liberation Serif', serif" font-size="10" font-weight="normal" text-anchor="end" stroke="#000" stroke-width="0.12" >2.0</text>
<line x1="386.50" y1="247.20" x2="390.70" y2="247.20" stroke="#484848" stroke-width="1.0" />
<text x="384.40" y="251.80" font-family="'Liberation Serif', serif" font-size="10" font-weight="normal" text-anchor="end" stroke="#000" stroke-width="0.12" >2.5</text>
<line x1="386.50" y1="224.00" x2="390.70" y2="224.00" stroke="#484848" stroke-width="1.0" />
<text x="384.40" y="228.00" font-family="'Liberation Serif', serif" font-size="10" font-weight="normal" text-anchor="end" stroke="#000" stroke-width="0.12" >3.0</text>
<line x1="386.20" y1="344.30" x2="517.30" y2="344.30" stroke="#484848" stroke-width="1.0" />
<line x1="392.60" y1="344.30" x2="392.60" y2="339.30" stroke="#484848" stroke-width="1.0" />
<line x1="399.30" y1="344.30" x2="399.30" y2="339.30" stroke="#484848" stroke-width="1.0" />
<line x1="412.40" y1="344.30" x2="412.40" y2="339.30" stroke="#484848" stroke-width="1.0" />
<line x1="431.40" y1="344.30" x2="431.40" y2="339.30" stroke="#484848" stroke-width="1.0" />
<line x1="470.90" y1="344.30" x2="470.90" y2="339.30" stroke="#484848" stroke-width="1.0" />
<line x1="510.70" y1="344.30" x2="510.70" y2="339.30" stroke="#484848" stroke-width="1.0" />
<line x1="517.30" y1="344.30" x2="517.30" y2="339.30" stroke="#484848" stroke-width="1.0" />
<rect x="489.30" y="343.30" width="1.6" height="2.0" fill="#fff"/>
<path d="M488.40,346.10 L489.60,342.50 M490.60,346.10 L491.80,342.50" stroke="#484848" stroke-width="0.8" fill="none"/>
<text x="392.80" y="354.30" font-family="'Liberation Serif', serif" font-size="10" font-weight="normal" text-anchor="middle" stroke="#000" stroke-width="0.12" >0</text>
<text x="399.90" y="354.30" font-family="'Liberation Serif', serif" font-size="10" font-weight="normal" text-anchor="middle" stroke="#000" stroke-width="0.12" >10</text>
<text x="412.40" y="354.30" font-family="'Liberation Serif', serif" font-size="10" font-weight="normal" text-anchor="middle" stroke="#000" stroke-width="0.12" >30</text>
<text x="431.40" y="354.30" font-family="'Liberation Serif', serif" font-size="10" font-weight="normal" text-anchor="middle" stroke="#000" stroke-width="0.12" >60</text>
<text x="470.90" y="354.30" font-family="'Liberation Serif', serif" font-size="10" font-weight="normal" text-anchor="middle" stroke="#000" stroke-width="0.12" >120</text>
<text x="510.70" y="354.30" font-family="'Liberation Serif', serif" font-size="10" font-weight="normal" text-anchor="middle" stroke="#000" stroke-width="0.12" >240</text>
<text x="451.80" y="363.80" font-family="'Liberation Sans', sans-serif" font-size="10.1" font-weight="normal" text-anchor="middle" stroke="#000" stroke-width="0.3" >Time, seconds</text>
<line x1="392.60" y1="311.46" x2="392.60" y2="306.70" stroke="#000" stroke-width="0.9" />
<line x1="390.80" y1="306.70" x2="394.40" y2="306.70" stroke="#000" stroke-width="0.9" />
<line x1="390.80" y1="311.46" x2="394.40" y2="311.46" stroke="#000" stroke-width="0.9" />
<line x1="399.30" y1="262.91" x2="399.30" y2="248.63" stroke="#000" stroke-width="0.9" />
<line x1="397.50" y1="248.63" x2="401.10" y2="248.63" stroke="#000" stroke-width="0.9" />
<line x1="397.50" y1="262.91" x2="401.10" y2="262.91" stroke="#000" stroke-width="0.9" />
<line x1="412.40" y1="274.33" x2="412.40" y2="255.29" stroke="#000" stroke-width="0.9" />
<line x1="410.60" y1="255.29" x2="414.20" y2="255.29" stroke="#000" stroke-width="0.9" />
<line x1="410.60" y1="274.33" x2="414.20" y2="274.33" stroke="#000" stroke-width="0.9" />
<line x1="431.40" y1="280.04" x2="431.40" y2="265.76" stroke="#000" stroke-width="0.9" />
<line x1="429.60" y1="265.76" x2="433.20" y2="265.76" stroke="#000" stroke-width="0.9" />
<line x1="429.60" y1="280.04" x2="433.20" y2="280.04" stroke="#000" stroke-width="0.9" />
<line x1="470.90" y1="284.33" x2="470.90" y2="270.05" stroke="#000" stroke-width="0.9" />
<line x1="469.10" y1="270.05" x2="472.70" y2="270.05" stroke="#000" stroke-width="0.9" />
<line x1="469.10" y1="284.33" x2="472.70" y2="284.33" stroke="#000" stroke-width="0.9" />
<line x1="510.70" y1="290.99" x2="510.70" y2="271.95" stroke="#000" stroke-width="0.9" />
<line x1="508.90" y1="271.95" x2="512.50" y2="271.95" stroke="#000" stroke-width="0.9" />
<line x1="508.90" y1="290.99" x2="512.50" y2="290.99" stroke="#000" stroke-width="0.9" />
<line x1="392.60" y1="320.50" x2="392.60" y2="315.74" stroke="#000" stroke-width="0.9" />
<line x1="390.80" y1="315.74" x2="394.40" y2="315.74" stroke="#000" stroke-width="0.9" />
<line x1="390.80" y1="320.50" x2="394.40" y2="320.50" stroke="#000" stroke-width="0.9" />
<line x1="399.30" y1="271.95" x2="399.30" y2="262.43" stroke="#000" stroke-width="0.9" />
<line x1="397.50" y1="262.43" x2="401.10" y2="262.43" stroke="#000" stroke-width="0.9" />
<line x1="397.50" y1="271.95" x2="401.10" y2="271.95" stroke="#000" stroke-width="0.9" />
<line x1="412.40" y1="275.28" x2="412.40" y2="261.00" stroke="#000" stroke-width="0.9" />
<line x1="410.60" y1="261.00" x2="414.20" y2="261.00" stroke="#000" stroke-width="0.9" />
<line x1="410.60" y1="275.28" x2="414.20" y2="275.28" stroke="#000" stroke-width="0.9" />
<line x1="431.40" y1="279.09" x2="431.40" y2="267.67" stroke="#000" stroke-width="0.9" />
<line x1="429.60" y1="267.67" x2="433.20" y2="267.67" stroke="#000" stroke-width="0.9" />
<line x1="429.60" y1="279.09" x2="433.20" y2="279.09" stroke="#000" stroke-width="0.9" />
<line x1="470.90" y1="282.90" x2="470.90" y2="271.48" stroke="#000" stroke-width="0.9" />
<line x1="469.10" y1="271.48" x2="472.70" y2="271.48" stroke="#000" stroke-width="0.9" />
<line x1="469.10" y1="282.90" x2="472.70" y2="282.90" stroke="#000" stroke-width="0.9" />
<line x1="510.70" y1="290.99" x2="510.70" y2="281.47" stroke="#000" stroke-width="0.9" />
<line x1="508.90" y1="281.47" x2="512.50" y2="281.47" stroke="#000" stroke-width="0.9" />
<line x1="508.90" y1="290.99" x2="512.50" y2="290.99" stroke="#000" stroke-width="0.9" />
<line x1="392.60" y1="327.17" x2="392.60" y2="317.65" stroke="#000" stroke-width="0.9" />
<line x1="390.80" y1="317.65" x2="394.40" y2="317.65" stroke="#000" stroke-width="0.9" />
<line x1="390.80" y1="327.17" x2="394.40" y2="327.17" stroke="#000" stroke-width="0.9" />
<line x1="399.30" y1="271.00" x2="399.30" y2="261.48" stroke="#000" stroke-width="0.9" />
<line x1="397.50" y1="261.48" x2="401.10" y2="261.48" stroke="#000" stroke-width="0.9" />
<line x1="397.50" y1="271.00" x2="401.10" y2="271.00" stroke="#000" stroke-width="0.9" />
<line x1="412.40" y1="289.56" x2="412.40" y2="275.28" stroke="#000" stroke-width="0.9" />
<line x1="410.60" y1="275.28" x2="414.20" y2="275.28" stroke="#000" stroke-width="0.9" />
<line x1="410.60" y1="289.56" x2="414.20" y2="289.56" stroke="#000" stroke-width="0.9" />
<line x1="431.40" y1="298.13" x2="431.40" y2="286.71" stroke="#000" stroke-width="0.9" />
<line x1="429.60" y1="286.71" x2="433.20" y2="286.71" stroke="#000" stroke-width="0.9" />
<line x1="429.60" y1="298.13" x2="433.20" y2="298.13" stroke="#000" stroke-width="0.9" />
<line x1="470.90" y1="309.56" x2="470.90" y2="295.28" stroke="#000" stroke-width="0.9" />
<line x1="469.10" y1="295.28" x2="472.70" y2="295.28" stroke="#000" stroke-width="0.9" />
<line x1="469.10" y1="309.56" x2="472.70" y2="309.56" stroke="#000" stroke-width="0.9" />
<line x1="510.70" y1="318.60" x2="510.70" y2="299.56" stroke="#000" stroke-width="0.9" />
<line x1="508.90" y1="299.56" x2="512.50" y2="299.56" stroke="#000" stroke-width="0.9" />
<line x1="508.90" y1="318.60" x2="512.50" y2="318.60" stroke="#000" stroke-width="0.9" />
<line x1="392.60" y1="333.83" x2="392.60" y2="324.31" stroke="#000" stroke-width="0.9" />
<line x1="390.80" y1="324.31" x2="394.40" y2="324.31" stroke="#000" stroke-width="0.9" />
<line x1="390.80" y1="333.83" x2="394.40" y2="333.83" stroke="#000" stroke-width="0.9" />
<line x1="399.30" y1="276.71" x2="399.30" y2="267.19" stroke="#000" stroke-width="0.9" />
<line x1="397.50" y1="267.19" x2="401.10" y2="267.19" stroke="#000" stroke-width="0.9" />
<line x1="397.50" y1="276.71" x2="401.10" y2="276.71" stroke="#000" stroke-width="0.9" />
<line x1="412.40" y1="290.04" x2="412.40" y2="275.76" stroke="#000" stroke-width="0.9" />
<line x1="410.60" y1="275.76" x2="414.20" y2="275.76" stroke="#000" stroke-width="0.9" />
<line x1="410.60" y1="290.04" x2="414.20" y2="290.04" stroke="#000" stroke-width="0.9" />
<line x1="431.40" y1="305.75" x2="431.40" y2="291.47" stroke="#000" stroke-width="0.9" />
<line x1="429.60" y1="291.47" x2="433.20" y2="291.47" stroke="#000" stroke-width="0.9" />
<line x1="429.60" y1="305.75" x2="433.20" y2="305.75" stroke="#000" stroke-width="0.9" />
<line x1="470.90" y1="308.13" x2="470.90" y2="296.70" stroke="#000" stroke-width="0.9" />
<line x1="469.10" y1="296.70" x2="472.70" y2="296.70" stroke="#000" stroke-width="0.9" />
<line x1="469.10" y1="308.13" x2="472.70" y2="308.13" stroke="#000" stroke-width="0.9" />
<line x1="510.70" y1="319.55" x2="510.70" y2="305.27" stroke="#000" stroke-width="0.9" />
<line x1="508.90" y1="305.27" x2="512.50" y2="305.27" stroke="#000" stroke-width="0.9" />
<line x1="508.90" y1="319.55" x2="512.50" y2="319.55" stroke="#000" stroke-width="0.9" />
<polyline points="392.60,329.07 399.30,271.95 412.40,282.90 431.40,298.61 470.90,302.42 510.70,312.41" fill="none" stroke="#000" stroke-width="1.35"/>
<polyline points="392.60,322.41 399.30,266.24 412.40,282.42 431.40,292.42 470.90,302.42 510.70,309.08" fill="none" stroke="#000" stroke-width="1.35"/>
<polyline points="392.60,318.12 399.30,267.19 412.40,268.14 431.40,273.38 470.90,277.19 510.70,286.23" fill="none" stroke="#000" stroke-width="1.35"/>
<polyline points="392.60,309.08 399.30,255.77 412.40,264.81 431.40,272.90 470.90,277.19 510.70,281.47" fill="none" stroke="#000" stroke-width="1.35"/>
<rect x="489.30" y="305.64" width="1.6" height="3.2" fill="#fff"/>
<path d="M488.90,309.24 L488.90,305.24 M491.30,309.24 L491.30,305.24" stroke="#000" stroke-width="0.8" fill="none"/>
<rect x="489.30" y="304.03" width="1.6" height="3.2" fill="#fff"/>
<path d="M488.90,307.63 L488.90,303.63 M491.30,307.63 L491.30,303.63" stroke="#000" stroke-width="0.8" fill="none"/>
<rect x="489.30" y="279.95" width="1.6" height="3.2" fill="#fff"/>
<path d="M488.90,283.55 L488.90,279.55 M491.30,283.55 L491.30,279.55" stroke="#000" stroke-width="0.8" fill="none"/>
<rect x="489.30" y="277.65" width="1.6" height="3.2" fill="#fff"/>
<path d="M488.90,281.25 L488.90,277.25 M491.30,281.25 L491.30,277.25" stroke="#000" stroke-width="0.8" fill="none"/>
<path d="M392.60,326.43 L395.00,331.23 L390.20,331.23 Z" fill="#000"/>
<path d="M399.30,269.31 L401.70,274.11 L396.90,274.11 Z" fill="#000"/>
<path d="M412.40,280.26 L414.80,285.06 L410.00,285.06 Z" fill="#000"/>
<path d="M431.40,295.97 L433.80,300.77 L429.00,300.77 Z" fill="#000"/>
<path d="M470.90,299.78 L473.30,304.58 L468.50,304.58 Z" fill="#000"/>
<path d="M510.70,309.77 L513.10,314.57 L508.30,314.57 Z" fill="#000"/>
<rect x="390.10" y="319.91" width="5.0" height="5.0" fill="#000"/>
<rect x="396.80" y="263.74" width="5.0" height="5.0" fill="#000"/>
<rect x="409.90" y="279.92" width="5.0" height="5.0" fill="#000"/>
<rect x="428.90" y="289.92" width="5.0" height="5.0" fill="#000"/>
<rect x="468.40" y="299.92" width="5.0" height="5.0" fill="#000"/>
<rect x="508.20" y="306.58" width="5.0" height="5.0" fill="#000"/>
<circle cx="392.60" cy="318.12" r="2.8" fill="#000"/>
<circle cx="399.30" cy="267.19" r="2.8" fill="#000"/>
<circle cx="412.40" cy="268.14" r="2.8" fill="#000"/>
<circle cx="431.40" cy="273.38" r="2.8" fill="#000"/>
<circle cx="470.90" cy="277.19" r="2.8" fill="#000"/>
<circle cx="510.70" cy="286.23" r="2.8" fill="#000"/>
<circle cx="392.60" cy="309.08" r="2.6" fill="#fff" stroke="#000" stroke-width="1.2"/>
<circle cx="399.30" cy="255.77" r="2.6" fill="#fff" stroke="#000" stroke-width="1.2"/>
<circle cx="412.40" cy="264.81" r="2.6" fill="#fff" stroke="#000" stroke-width="1.2"/>
<circle cx="431.40" cy="272.90" r="2.6" fill="#fff" stroke="#000" stroke-width="1.2"/>
<circle cx="470.90" cy="277.19" r="2.6" fill="#fff" stroke="#000" stroke-width="1.2"/>
<circle cx="510.70" cy="281.47" r="2.6" fill="#fff" stroke="#000" stroke-width="1.2"/>
<circle cx="460.10" cy="225.30" r="2.0" fill="#fff" stroke="#000" stroke-width="1.0"/>
<text x="466.40" y="228.30" font-family="'Liberation Sans', sans-serif" font-size="8.3" font-weight="normal" text-anchor="start" stroke="#000" stroke-width="0.3" >Control</text>
<rect x="457.85" y="235.05" width="4.5" height="4.5" fill="#000"/>
<text x="466.40" y="240.30" font-family="'Liberation Sans', sans-serif" font-size="8.3" font-weight="normal" text-anchor="start" stroke="#000" stroke-width="0.3" >+ WTM</text>
<circle cx="460.10" cy="248.50" r="2.3" fill="#000"/>
<text x="466.40" y="251.50" font-family="'Liberation Sans', sans-serif" font-size="8.3" font-weight="normal" text-anchor="start" stroke="#000" stroke-width="0.3" >+ SH2</text>
<path d="M460.10,258.33 L462.25,262.63 L457.95,262.63 Z" fill="#000"/>
<text x="466.40" y="263.70" font-family="'Liberation Sans', sans-serif" font-size="8.3" font-weight="normal" text-anchor="start" stroke="#000" stroke-width="0.3" >+ WTM + SH2</text>
<line x1="39.50" y1="371.40" x2="39.50" y2="492.10" stroke="#484848" stroke-width="1.0" />
<line x1="39.30" y1="490.90" x2="45.30" y2="490.90" stroke="#484848" stroke-width="1.0" />
<line x1="39.30" y1="484.95" x2="42.30" y2="484.95" stroke="#484848" stroke-width="1.0" />
<line x1="39.30" y1="479.00" x2="42.30" y2="479.00" stroke="#484848" stroke-width="1.0" />
<line x1="39.30" y1="473.05" x2="42.30" y2="473.05" stroke="#484848" stroke-width="1.0" />
<line x1="39.30" y1="467.10" x2="45.30" y2="467.10" stroke="#484848" stroke-width="1.0" />
<line x1="39.30" y1="461.15" x2="42.30" y2="461.15" stroke="#484848" stroke-width="1.0" />
<line x1="39.30" y1="455.20" x2="42.30" y2="455.20" stroke="#484848" stroke-width="1.0" />
<line x1="39.30" y1="449.25" x2="42.30" y2="449.25" stroke="#484848" stroke-width="1.0" />
<line x1="39.30" y1="443.30" x2="45.30" y2="443.30" stroke="#484848" stroke-width="1.0" />
<line x1="39.30" y1="437.35" x2="42.30" y2="437.35" stroke="#484848" stroke-width="1.0" />
<line x1="39.30" y1="431.40" x2="42.30" y2="431.40" stroke="#484848" stroke-width="1.0" />
<line x1="39.30" y1="425.45" x2="42.30" y2="425.45" stroke="#484848" stroke-width="1.0" />
<line x1="39.30" y1="419.50" x2="45.30" y2="419.50" stroke="#484848" stroke-width="1.0" />
<line x1="39.30" y1="413.55" x2="42.30" y2="413.55" stroke="#484848" stroke-width="1.0" />
<line x1="39.30" y1="407.60" x2="42.30" y2="407.60" stroke="#484848" stroke-width="1.0" />
<line x1="39.30" y1="401.65" x2="42.30" y2="401.65" stroke="#484848" stroke-width="1.0" />
<line x1="39.30" y1="395.70" x2="45.30" y2="395.70" stroke="#484848" stroke-width="1.0" />
<line x1="39.30" y1="389.75" x2="42.30" y2="389.75" stroke="#484848" stroke-width="1.0" />
<line x1="39.30" y1="383.80" x2="42.30" y2="383.80" stroke="#484848" stroke-width="1.0" />
<line x1="39.30" y1="377.85" x2="42.30" y2="377.85" stroke="#484848" stroke-width="1.0" />
<line x1="39.30" y1="371.90" x2="45.30" y2="371.90" stroke="#484848" stroke-width="1.0" />
<text x="37.40" y="491.60" font-family="'Liberation Serif', serif" font-size="10" font-weight="normal" text-anchor="end" stroke="#000" stroke-width="0.12" >0</text>
<text x="37.40" y="470.60" font-family="'Liberation Serif', serif" font-size="10" font-weight="normal" text-anchor="end" stroke="#000" stroke-width="0.12" >2</text>
<text x="37.40" y="446.80" font-family="'Liberation Serif', serif" font-size="10" font-weight="normal" text-anchor="end" stroke="#000" stroke-width="0.12" >4</text>
<text x="37.40" y="423.00" font-family="'Liberation Serif', serif" font-size="10" font-weight="normal" text-anchor="end" stroke="#000" stroke-width="0.12" >6</text>
<text x="37.40" y="399.20" font-family="'Liberation Serif', serif" font-size="10" font-weight="normal" text-anchor="end" stroke="#000" stroke-width="0.12" >8</text>
<text x="37.40" y="375.40" font-family="'Liberation Serif', serif" font-size="10" font-weight="normal" text-anchor="end" stroke="#000" stroke-width="0.12" >10</text>
<line x1="38.80" y1="491.60" x2="169.80" y2="491.60" stroke="#484848" stroke-width="1.0" />
<line x1="65.30" y1="491.60" x2="65.30" y2="486.10" stroke="#484848" stroke-width="1.0" />
<line x1="91.30" y1="491.60" x2="91.30" y2="486.10" stroke="#484848" stroke-width="1.0" />
<line x1="117.30" y1="491.60" x2="117.30" y2="486.10" stroke="#484848" stroke-width="1.0" />
<line x1="143.30" y1="491.60" x2="143.30" y2="486.10" stroke="#484848" stroke-width="1.0" />
<line x1="169.30" y1="491.60" x2="169.30" y2="486.10" stroke="#484848" stroke-width="1.0" />
<line x1="52.30" y1="484.95" x2="52.30" y2="482.21" stroke="#000" stroke-width="1.0" />
<line x1="49.70" y1="482.21" x2="54.90" y2="482.21" stroke="#000" stroke-width="1.0" />
<rect x="43.30" y="484.95" width="18.00" height="6.65" fill="#000"/>
<line x1="78.30" y1="458.53" x2="78.30" y2="456.39" stroke="#000" stroke-width="1.0" />
<line x1="75.70" y1="456.39" x2="80.90" y2="456.39" stroke="#000" stroke-width="1.0" />
<rect x="69.30" y="458.53" width="18.00" height="33.07" fill="#000"/>
<line x1="104.30" y1="488.04" x2="104.30" y2="485.43" stroke="#000" stroke-width="1.0" />
<line x1="101.70" y1="485.43" x2="106.90" y2="485.43" stroke="#000" stroke-width="1.0" />
<rect x="95.30" y="488.04" width="18.00" height="3.56" fill="#000"/>
<line x1="130.30" y1="463.29" x2="130.30" y2="459.96" stroke="#000" stroke-width="1.0" />
<line x1="127.70" y1="459.96" x2="132.90" y2="459.96" stroke="#000" stroke-width="1.0" />
<rect x="121.30" y="463.29" width="18.00" height="28.31" fill="#000"/>
<line x1="78.30" y1="450.50" x2="156.30" y2="450.50" stroke="#484848" stroke-width="1.0" />
<line x1="78.30" y1="450.50" x2="78.30" y2="455.50" stroke="#484848" stroke-width="1.0" />
<line x1="104.30" y1="450.50" x2="104.30" y2="455.50" stroke="#484848" stroke-width="1.0" />
<line x1="156.30" y1="450.50" x2="156.30" y2="455.50" stroke="#484848" stroke-width="1.0" />
<line x1="105.80" y1="458.39" x2="105.80" y2="463.61" stroke="#000" stroke-width="1.55" stroke-linecap="round"/>
<line x1="103.29" y1="459.55" x2="108.31" y2="462.45" stroke="#000" stroke-width="1.55" stroke-linecap="round"/>
<line x1="108.31" y1="459.55" x2="103.29" y2="462.45" stroke="#000" stroke-width="1.55" stroke-linecap="round"/>
<line x1="157.80" y1="458.39" x2="157.80" y2="463.61" stroke="#000" stroke-width="1.55" stroke-linecap="round"/>
<line x1="155.29" y1="459.55" x2="160.31" y2="462.45" stroke="#000" stroke-width="1.55" stroke-linecap="round"/>
<line x1="160.31" y1="459.55" x2="155.29" y2="462.45" stroke="#000" stroke-width="1.55" stroke-linecap="round"/>
<text x="38.90" y="504.30" font-family="'Liberation Sans', sans-serif" font-size="9.9" font-weight="normal" text-anchor="end" stroke="#000" stroke-width="0.35" textLength="22.3" lengthAdjust="spacingAndGlyphs">fMLP</text>
<line x1="50.30" y1="502.40" x2="53.70" y2="502.40" stroke="#000" stroke-width="1.5" />
<line x1="75.00" y1="501.00" x2="80.80" y2="501.00" stroke="#000" stroke-width="1.45" />
<line x1="77.90" y1="498.30" x2="77.90" y2="503.70" stroke="#000" stroke-width="1.45" />
<line x1="101.00" y1="501.00" x2="106.80" y2="501.00" stroke="#000" stroke-width="1.45" />
<line x1="103.90" y1="498.30" x2="103.90" y2="503.70" stroke="#000" stroke-width="1.45" />
<line x1="127.00" y1="501.00" x2="132.80" y2="501.00" stroke="#000" stroke-width="1.45" />
<line x1="129.90" y1="498.30" x2="129.90" y2="503.70" stroke="#000" stroke-width="1.45" />
<line x1="153.00" y1="501.00" x2="158.80" y2="501.00" stroke="#000" stroke-width="1.45" />
<line x1="155.90" y1="498.30" x2="155.90" y2="503.70" stroke="#000" stroke-width="1.45" />
<text x="38.90" y="518.60" font-family="'Liberation Sans', sans-serif" font-size="9.9" font-weight="normal" text-anchor="end" stroke="#000" stroke-width="0.35" textLength="23.8" lengthAdjust="spacingAndGlyphs">WTM</text>
<line x1="50.30" y1="516.70" x2="53.70" y2="516.70" stroke="#000" stroke-width="1.5" />
<line x1="76.30" y1="516.70" x2="79.70" y2="516.70" stroke="#000" stroke-width="1.5" />
<line x1="101.00" y1="515.30" x2="106.80" y2="515.30" stroke="#000" stroke-width="1.45" />
<line x1="103.90" y1="512.60" x2="103.90" y2="518.00" stroke="#000" stroke-width="1.45" />
<line x1="128.30" y1="516.70" x2="131.70" y2="516.70" stroke="#000" stroke-width="1.5" />
<line x1="153.00" y1="515.30" x2="158.80" y2="515.30" stroke="#000" stroke-width="1.45" />
<line x1="155.90" y1="512.60" x2="155.90" y2="518.00" stroke="#000" stroke-width="1.45" />
<text x="38.90" y="532.90" font-family="'Liberation Sans', sans-serif" font-size="9.9" font-weight="normal" text-anchor="end" stroke="#000" stroke-width="0.35" textLength="19.4" lengthAdjust="spacingAndGlyphs">SH2</text>
<line x1="50.30" y1="531.00" x2="53.70" y2="531.00" stroke="#000" stroke-width="1.5" />
<line x1="76.30" y1="531.00" x2="79.70" y2="531.00" stroke="#000" stroke-width="1.5" />
<line x1="102.30" y1="531.00" x2="105.70" y2="531.00" stroke="#000" stroke-width="1.5" />
<line x1="127.00" y1="529.60" x2="132.80" y2="529.60" stroke="#000" stroke-width="1.45" />
<line x1="129.90" y1="526.90" x2="129.90" y2="532.30" stroke="#000" stroke-width="1.45" />
<line x1="153.00" y1="529.60" x2="158.80" y2="529.60" stroke="#000" stroke-width="1.45" />
<line x1="155.90" y1="526.90" x2="155.90" y2="532.30" stroke="#000" stroke-width="1.45" />
<line x1="213.50" y1="371.40" x2="213.50" y2="492.10" stroke="#484848" stroke-width="1.0" />
<line x1="213.20" y1="490.90" x2="219.20" y2="490.90" stroke="#484848" stroke-width="1.0" />
<line x1="213.20" y1="484.95" x2="216.20" y2="484.95" stroke="#484848" stroke-width="1.0" />
<line x1="213.20" y1="479.00" x2="216.20" y2="479.00" stroke="#484848" stroke-width="1.0" />
<line x1="213.20" y1="473.05" x2="216.20" y2="473.05" stroke="#484848" stroke-width="1.0" />
<line x1="213.20" y1="467.10" x2="219.20" y2="467.10" stroke="#484848" stroke-width="1.0" />
<line x1="213.20" y1="461.15" x2="216.20" y2="461.15" stroke="#484848" stroke-width="1.0" />
<line x1="213.20" y1="455.20" x2="216.20" y2="455.20" stroke="#484848" stroke-width="1.0" />
<line x1="213.20" y1="449.25" x2="216.20" y2="449.25" stroke="#484848" stroke-width="1.0" />
<line x1="213.20" y1="443.30" x2="219.20" y2="443.30" stroke="#484848" stroke-width="1.0" />
<line x1="213.20" y1="437.35" x2="216.20" y2="437.35" stroke="#484848" stroke-width="1.0" />
<line x1="213.20" y1="431.40" x2="216.20" y2="431.40" stroke="#484848" stroke-width="1.0" />
<line x1="213.20" y1="425.45" x2="216.20" y2="425.45" stroke="#484848" stroke-width="1.0" />
<line x1="213.20" y1="419.50" x2="219.20" y2="419.50" stroke="#484848" stroke-width="1.0" />
<line x1="213.20" y1="413.55" x2="216.20" y2="413.55" stroke="#484848" stroke-width="1.0" />
<line x1="213.20" y1="407.60" x2="216.20" y2="407.60" stroke="#484848" stroke-width="1.0" />
<line x1="213.20" y1="401.65" x2="216.20" y2="401.65" stroke="#484848" stroke-width="1.0" />
<line x1="213.20" y1="395.70" x2="219.20" y2="395.70" stroke="#484848" stroke-width="1.0" />
<line x1="213.20" y1="389.75" x2="216.20" y2="389.75" stroke="#484848" stroke-width="1.0" />
<line x1="213.20" y1="383.80" x2="216.20" y2="383.80" stroke="#484848" stroke-width="1.0" />
<line x1="213.20" y1="377.85" x2="216.20" y2="377.85" stroke="#484848" stroke-width="1.0" />
<line x1="213.20" y1="371.90" x2="219.20" y2="371.90" stroke="#484848" stroke-width="1.0" />
<text x="211.30" y="491.60" font-family="'Liberation Serif', serif" font-size="10" font-weight="normal" text-anchor="end" stroke="#000" stroke-width="0.12" >0</text>
<text x="211.30" y="470.60" font-family="'Liberation Serif', serif" font-size="10" font-weight="normal" text-anchor="end" stroke="#000" stroke-width="0.12" >2</text>
<text x="211.30" y="446.80" font-family="'Liberation Serif', serif" font-size="10" font-weight="normal" text-anchor="end" stroke="#000" stroke-width="0.12" >4</text>
<text x="211.30" y="423.00" font-family="'Liberation Serif', serif" font-size="10" font-weight="normal" text-anchor="end" stroke="#000" stroke-width="0.12" >6</text>
<text x="211.30" y="399.20" font-family="'Liberation Serif', serif" font-size="10" font-weight="normal" text-anchor="end" stroke="#000" stroke-width="0.12" >8</text>
<text x="211.30" y="375.40" font-family="'Liberation Serif', serif" font-size="10" font-weight="normal" text-anchor="end" stroke="#000" stroke-width="0.12" >10</text>
<line x1="212.70" y1="491.60" x2="343.70" y2="491.60" stroke="#484848" stroke-width="1.0" />
<line x1="239.20" y1="491.60" x2="239.20" y2="486.10" stroke="#484848" stroke-width="1.0" />
<line x1="265.20" y1="491.60" x2="265.20" y2="486.10" stroke="#484848" stroke-width="1.0" />
<line x1="291.20" y1="491.60" x2="291.20" y2="486.10" stroke="#484848" stroke-width="1.0" />
<line x1="317.20" y1="491.60" x2="317.20" y2="486.10" stroke="#484848" stroke-width="1.0" />
<line x1="343.20" y1="491.60" x2="343.20" y2="486.10" stroke="#484848" stroke-width="1.0" />
<line x1="226.20" y1="484.00" x2="226.20" y2="481.14" stroke="#000" stroke-width="1.0" />
<line x1="223.60" y1="481.14" x2="228.80" y2="481.14" stroke="#000" stroke-width="1.0" />
<rect x="217.20" y="484.00" width="18.00" height="7.60" fill="#000"/>
<line x1="252.20" y1="449.37" x2="252.20" y2="444.85" stroke="#000" stroke-width="1.0" />
<line x1="249.60" y1="444.85" x2="254.80" y2="444.85" stroke="#000" stroke-width="1.0" />
<rect x="243.20" y="449.37" width="18.00" height="42.23" fill="#000"/>
<line x1="278.20" y1="485.43" x2="278.20" y2="483.16" stroke="#000" stroke-width="1.0" />
<line x1="275.60" y1="483.16" x2="280.80" y2="483.16" stroke="#000" stroke-width="1.0" />
<rect x="269.20" y="485.43" width="18.00" height="6.17" fill="#000"/>
<line x1="304.20" y1="452.94" x2="304.20" y2="450.08" stroke="#000" stroke-width="1.0" />
<line x1="301.60" y1="450.08" x2="306.80" y2="450.08" stroke="#000" stroke-width="1.0" />
<rect x="295.20" y="452.94" width="18.00" height="38.66" fill="#000"/>
<line x1="252.20" y1="440.30" x2="330.20" y2="440.30" stroke="#484848" stroke-width="1.0" />
<line x1="252.20" y1="440.30" x2="252.20" y2="445.30" stroke="#484848" stroke-width="1.0" />
<line x1="278.20" y1="440.30" x2="278.20" y2="445.30" stroke="#484848" stroke-width="1.0" />
<line x1="330.20" y1="440.30" x2="330.20" y2="445.30" stroke="#484848" stroke-width="1.0" />
<line x1="279.70" y1="448.19" x2="279.70" y2="453.41" stroke="#000" stroke-width="1.55" stroke-linecap="round"/>
<line x1="277.19" y1="449.35" x2="282.21" y2="452.25" stroke="#000" stroke-width="1.55" stroke-linecap="round"/>
<line x1="282.21" y1="449.35" x2="277.19" y2="452.25" stroke="#000" stroke-width="1.55" stroke-linecap="round"/>
<line x1="331.70" y1="448.19" x2="331.70" y2="453.41" stroke="#000" stroke-width="1.55" stroke-linecap="round"/>
<line x1="329.19" y1="449.35" x2="334.21" y2="452.25" stroke="#000" stroke-width="1.55" stroke-linecap="round"/>
<line x1="334.21" y1="449.35" x2="329.19" y2="452.25" stroke="#000" stroke-width="1.55" stroke-linecap="round"/>
<text x="212.80" y="504.30" font-family="'Liberation Sans', sans-serif" font-size="9.9" font-weight="normal" text-anchor="end" stroke="#000" stroke-width="0.35" textLength="22.3" lengthAdjust="spacingAndGlyphs">fMLP</text>
<line x1="224.20" y1="502.40" x2="227.60" y2="502.40" stroke="#000" stroke-width="1.5" />
<line x1="248.90" y1="501.00" x2="254.70" y2="501.00" stroke="#000" stroke-width="1.45" />
<line x1="251.80" y1="498.30" x2="251.80" y2="503.70" stroke="#000" stroke-width="1.45" />
<line x1="274.90" y1="501.00" x2="280.70" y2="501.00" stroke="#000" stroke-width="1.45" />
<line x1="277.80" y1="498.30" x2="277.80" y2="503.70" stroke="#000" stroke-width="1.45" />
<line x1="300.90" y1="501.00" x2="306.70" y2="501.00" stroke="#000" stroke-width="1.45" />
<line x1="303.80" y1="498.30" x2="303.80" y2="503.70" stroke="#000" stroke-width="1.45" />
<line x1="326.90" y1="501.00" x2="332.70" y2="501.00" stroke="#000" stroke-width="1.45" />
<line x1="329.80" y1="498.30" x2="329.80" y2="503.70" stroke="#000" stroke-width="1.45" />
<text x="212.80" y="518.60" font-family="'Liberation Sans', sans-serif" font-size="9.9" font-weight="normal" text-anchor="end" stroke="#000" stroke-width="0.35" textLength="23.8" lengthAdjust="spacingAndGlyphs">WTM</text>
<line x1="224.20" y1="516.70" x2="227.60" y2="516.70" stroke="#000" stroke-width="1.5" />
<line x1="250.20" y1="516.70" x2="253.60" y2="516.70" stroke="#000" stroke-width="1.5" />
<line x1="274.90" y1="515.30" x2="280.70" y2="515.30" stroke="#000" stroke-width="1.45" />
<line x1="277.80" y1="512.60" x2="277.80" y2="518.00" stroke="#000" stroke-width="1.45" />
<line x1="302.20" y1="516.70" x2="305.60" y2="516.70" stroke="#000" stroke-width="1.5" />
<line x1="326.90" y1="515.30" x2="332.70" y2="515.30" stroke="#000" stroke-width="1.45" />
<line x1="329.80" y1="512.60" x2="329.80" y2="518.00" stroke="#000" stroke-width="1.45" />
<text x="212.80" y="532.90" font-family="'Liberation Sans', sans-serif" font-size="9.9" font-weight="normal" text-anchor="end" stroke="#000" stroke-width="0.35" textLength="19.4" lengthAdjust="spacingAndGlyphs">SH2</text>
<line x1="224.20" y1="531.00" x2="227.60" y2="531.00" stroke="#000" stroke-width="1.5" />
<line x1="250.20" y1="531.00" x2="253.60" y2="531.00" stroke="#000" stroke-width="1.5" />
<line x1="276.20" y1="531.00" x2="279.60" y2="531.00" stroke="#000" stroke-width="1.5" />
<line x1="300.90" y1="529.60" x2="306.70" y2="529.60" stroke="#000" stroke-width="1.45" />
<line x1="303.80" y1="526.90" x2="303.80" y2="532.30" stroke="#000" stroke-width="1.45" />
<line x1="326.90" y1="529.60" x2="332.70" y2="529.60" stroke="#000" stroke-width="1.45" />
<line x1="329.80" y1="526.90" x2="329.80" y2="532.30" stroke="#000" stroke-width="1.45" />
<line x1="387.00" y1="371.40" x2="387.00" y2="492.10" stroke="#484848" stroke-width="1.0" />
<line x1="387.00" y1="490.90" x2="393.00" y2="490.90" stroke="#484848" stroke-width="1.0" />
<line x1="387.00" y1="484.95" x2="390.00" y2="484.95" stroke="#484848" stroke-width="1.0" />
<line x1="387.00" y1="479.00" x2="390.00" y2="479.00" stroke="#484848" stroke-width="1.0" />
<line x1="387.00" y1="473.05" x2="390.00" y2="473.05" stroke="#484848" stroke-width="1.0" />
<line x1="387.00" y1="467.10" x2="393.00" y2="467.10" stroke="#484848" stroke-width="1.0" />
<line x1="387.00" y1="461.15" x2="390.00" y2="461.15" stroke="#484848" stroke-width="1.0" />
<line x1="387.00" y1="455.20" x2="390.00" y2="455.20" stroke="#484848" stroke-width="1.0" />
<line x1="387.00" y1="449.25" x2="390.00" y2="449.25" stroke="#484848" stroke-width="1.0" />
<line x1="387.00" y1="443.30" x2="393.00" y2="443.30" stroke="#484848" stroke-width="1.0" />
<line x1="387.00" y1="437.35" x2="390.00" y2="437.35" stroke="#484848" stroke-width="1.0" />
<line x1="387.00" y1="431.40" x2="390.00" y2="431.40" stroke="#484848" stroke-width="1.0" />
<line x1="387.00" y1="425.45" x2="390.00" y2="425.45" stroke="#484848" stroke-width="1.0" />
<line x1="387.00" y1="419.50" x2="393.00" y2="419.50" stroke="#484848" stroke-width="1.0" />
<line x1="387.00" y1="413.55" x2="390.00" y2="413.55" stroke="#484848" stroke-width="1.0" />
<line x1="387.00" y1="407.60" x2="390.00" y2="407.60" stroke="#484848" stroke-width="1.0" />
<line x1="387.00" y1="401.65" x2="390.00" y2="401.65" stroke="#484848" stroke-width="1.0" />
<line x1="387.00" y1="395.70" x2="393.00" y2="395.70" stroke="#484848" stroke-width="1.0" />
<line x1="387.00" y1="389.75" x2="390.00" y2="389.75" stroke="#484848" stroke-width="1.0" />
<line x1="387.00" y1="383.80" x2="390.00" y2="383.80" stroke="#484848" stroke-width="1.0" />
<line x1="387.00" y1="377.85" x2="390.00" y2="377.85" stroke="#484848" stroke-width="1.0" />
<line x1="387.00" y1="371.90" x2="393.00" y2="371.90" stroke="#484848" stroke-width="1.0" />
<text x="385.10" y="491.60" font-family="'Liberation Serif', serif" font-size="10" font-weight="normal" text-anchor="end" stroke="#000" stroke-width="0.12" >0</text>
<text x="385.10" y="470.60" font-family="'Liberation Serif', serif" font-size="10" font-weight="normal" text-anchor="end" stroke="#000" stroke-width="0.12" >2</text>
<text x="385.10" y="446.80" font-family="'Liberation Serif', serif" font-size="10" font-weight="normal" text-anchor="end" stroke="#000" stroke-width="0.12" >4</text>
<text x="385.10" y="423.00" font-family="'Liberation Serif', serif" font-size="10" font-weight="normal" text-anchor="end" stroke="#000" stroke-width="0.12" >6</text>
<text x="385.10" y="399.20" font-family="'Liberation Serif', serif" font-size="10" font-weight="normal" text-anchor="end" stroke="#000" stroke-width="0.12" >8</text>
<text x="385.10" y="375.40" font-family="'Liberation Serif', serif" font-size="10" font-weight="normal" text-anchor="end" stroke="#000" stroke-width="0.12" >10</text>
<line x1="386.50" y1="491.60" x2="517.50" y2="491.60" stroke="#484848" stroke-width="1.0" />
<line x1="413.00" y1="491.60" x2="413.00" y2="486.10" stroke="#484848" stroke-width="1.0" />
<line x1="439.00" y1="491.60" x2="439.00" y2="486.10" stroke="#484848" stroke-width="1.0" />
<line x1="465.00" y1="491.60" x2="465.00" y2="486.10" stroke="#484848" stroke-width="1.0" />
<line x1="491.00" y1="491.60" x2="491.00" y2="486.10" stroke="#484848" stroke-width="1.0" />
<line x1="517.00" y1="491.60" x2="517.00" y2="486.10" stroke="#484848" stroke-width="1.0" />
<line x1="400.00" y1="484.95" x2="400.00" y2="482.33" stroke="#000" stroke-width="1.0" />
<line x1="397.40" y1="482.33" x2="402.60" y2="482.33" stroke="#000" stroke-width="1.0" />
<rect x="391.00" y="484.95" width="18.00" height="6.65" fill="#000"/>
<line x1="426.00" y1="459.96" x2="426.00" y2="456.39" stroke="#000" stroke-width="1.0" />
<line x1="423.40" y1="456.39" x2="428.60" y2="456.39" stroke="#000" stroke-width="1.0" />
<rect x="417.00" y="459.96" width="18.00" height="31.64" fill="#000"/>
<line x1="452.00" y1="488.88" x2="452.00" y2="487.33" stroke="#000" stroke-width="1.0" />
<line x1="449.40" y1="487.33" x2="454.60" y2="487.33" stroke="#000" stroke-width="1.0" />
<rect x="443.00" y="488.88" width="18.00" height="2.72" fill="#000"/>
<line x1="478.00" y1="464.72" x2="478.00" y2="459.96" stroke="#000" stroke-width="1.0" />
<line x1="475.40" y1="459.96" x2="480.60" y2="459.96" stroke="#000" stroke-width="1.0" />
<rect x="469.00" y="464.72" width="18.00" height="26.88" fill="#000"/>
<line x1="504.00" y1="489.95" x2="504.00" y2="488.52" stroke="#000" stroke-width="1.0" />
<line x1="501.40" y1="488.52" x2="506.60" y2="488.52" stroke="#000" stroke-width="1.0" />
<rect x="495.00" y="489.95" width="18.00" height="1.65" fill="#000"/>
<line x1="426.00" y1="449.70" x2="504.00" y2="449.70" stroke="#484848" stroke-width="1.0" />
<line x1="426.00" y1="449.70" x2="426.00" y2="454.70" stroke="#484848" stroke-width="1.0" />
<line x1="452.00" y1="449.70" x2="452.00" y2="454.70" stroke="#484848" stroke-width="1.0" />
<line x1="504.00" y1="449.70" x2="504.00" y2="454.70" stroke="#484848" stroke-width="1.0" />
<line x1="453.50" y1="457.59" x2="453.50" y2="462.81" stroke="#000" stroke-width="1.55" stroke-linecap="round"/>
<line x1="450.99" y1="458.75" x2="456.01" y2="461.65" stroke="#000" stroke-width="1.55" stroke-linecap="round"/>
<line x1="456.01" y1="458.75" x2="450.99" y2="461.65" stroke="#000" stroke-width="1.55" stroke-linecap="round"/>
<line x1="505.50" y1="457.59" x2="505.50" y2="462.81" stroke="#000" stroke-width="1.55" stroke-linecap="round"/>
<line x1="502.99" y1="458.75" x2="508.01" y2="461.65" stroke="#000" stroke-width="1.55" stroke-linecap="round"/>
<line x1="508.01" y1="458.75" x2="502.99" y2="461.65" stroke="#000" stroke-width="1.55" stroke-linecap="round"/>
<text x="386.60" y="504.30" font-family="'Liberation Sans', sans-serif" font-size="9.9" font-weight="normal" text-anchor="end" stroke="#000" stroke-width="0.35" textLength="22.3" lengthAdjust="spacingAndGlyphs">fMLP</text>
<line x1="398.00" y1="502.40" x2="401.40" y2="502.40" stroke="#000" stroke-width="1.5" />
<line x1="422.70" y1="501.00" x2="428.50" y2="501.00" stroke="#000" stroke-width="1.45" />
<line x1="425.60" y1="498.30" x2="425.60" y2="503.70" stroke="#000" stroke-width="1.45" />
<line x1="448.70" y1="501.00" x2="454.50" y2="501.00" stroke="#000" stroke-width="1.45" />
<line x1="451.60" y1="498.30" x2="451.60" y2="503.70" stroke="#000" stroke-width="1.45" />
<line x1="474.70" y1="501.00" x2="480.50" y2="501.00" stroke="#000" stroke-width="1.45" />
<line x1="477.60" y1="498.30" x2="477.60" y2="503.70" stroke="#000" stroke-width="1.45" />
<line x1="500.70" y1="501.00" x2="506.50" y2="501.00" stroke="#000" stroke-width="1.45" />
<line x1="503.60" y1="498.30" x2="503.60" y2="503.70" stroke="#000" stroke-width="1.45" />
<text x="386.60" y="518.60" font-family="'Liberation Sans', sans-serif" font-size="9.9" font-weight="normal" text-anchor="end" stroke="#000" stroke-width="0.35" textLength="23.8" lengthAdjust="spacingAndGlyphs">WTM</text>
<line x1="398.00" y1="516.70" x2="401.40" y2="516.70" stroke="#000" stroke-width="1.5" />
<line x1="424.00" y1="516.70" x2="427.40" y2="516.70" stroke="#000" stroke-width="1.5" />
<line x1="448.70" y1="515.30" x2="454.50" y2="515.30" stroke="#000" stroke-width="1.45" />
<line x1="451.60" y1="512.60" x2="451.60" y2="518.00" stroke="#000" stroke-width="1.45" />
<line x1="476.00" y1="516.70" x2="479.40" y2="516.70" stroke="#000" stroke-width="1.5" />
<line x1="500.70" y1="515.30" x2="506.50" y2="515.30" stroke="#000" stroke-width="1.45" />
<line x1="503.60" y1="512.60" x2="503.60" y2="518.00" stroke="#000" stroke-width="1.45" />
<text x="386.60" y="532.90" font-family="'Liberation Sans', sans-serif" font-size="9.9" font-weight="normal" text-anchor="end" stroke="#000" stroke-width="0.35" textLength="19.4" lengthAdjust="spacingAndGlyphs">SH2</text>
<line x1="398.00" y1="531.00" x2="401.40" y2="531.00" stroke="#000" stroke-width="1.5" />
<line x1="424.00" y1="531.00" x2="427.40" y2="531.00" stroke="#000" stroke-width="1.5" />
<line x1="450.00" y1="531.00" x2="453.40" y2="531.00" stroke="#000" stroke-width="1.5" />
<line x1="474.70" y1="529.60" x2="480.50" y2="529.60" stroke="#000" stroke-width="1.45" />
<line x1="477.60" y1="526.90" x2="477.60" y2="532.30" stroke="#000" stroke-width="1.45" />
<line x1="500.70" y1="529.60" x2="506.50" y2="529.60" stroke="#000" stroke-width="1.45" />
<line x1="503.60" y1="526.90" x2="503.60" y2="532.30" stroke="#000" stroke-width="1.45" />
</svg>
</body></html>
